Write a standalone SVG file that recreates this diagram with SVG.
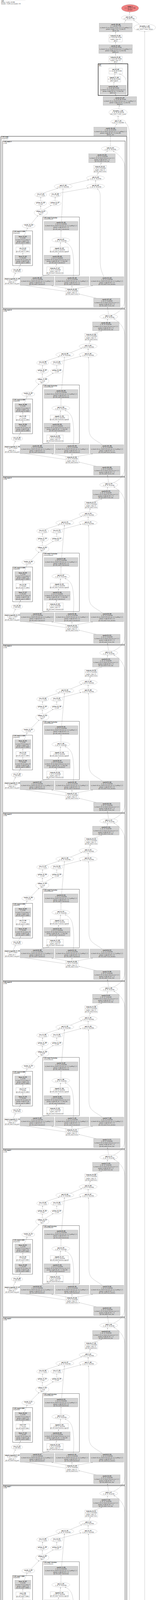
<svg xmlns="http://www.w3.org/2000/svg" width="400" height="7301" viewBox="0 0 400 7301">
<style>
text{font-family:"Liberation Serif","Times New Roman",serif;font-size:3.4px;text-anchor:middle;fill:#1a1a1a}
.b{font-weight:bold}
.l{text-anchor:start}
.s{font-size:2.95px}
.g{fill:#d3d3d3;stroke:#8c8c8c;stroke-width:.35}
.w{fill:#fff;stroke:#8c8c8c;stroke-width:.35}
.e path{fill:none;stroke:#6e6e6e;stroke-width:.35;marker-end:url(#ah)}
.c1{fill:none;stroke:#3c3c3c;stroke-width:1}
.c2{fill:none;stroke:#3c3c3c;stroke-width:.85}
.c3{fill:none;stroke:#333;stroke-width:.6}
.c4{fill:none;stroke:#111;stroke-width:1.2}
</style>
<defs>
<marker id="ah" viewBox="0 0 10 7" refX="10" refY="3.5" markerWidth="2.2" markerHeight="1.6" markerUnits="userSpaceOnUse" orient="auto"><path d="M0,0L10,3.5L0,7z" fill="#555"/></marker>
<g id="Tcf"><rect class="g" x="-34" y="-11.25" width="68" height="22.5"/><text y="-2.9">(1, 40, 16, 16) 40 KB</text><text class="s" y="1.2">in_channels=40, out_channels=40, kernel_size=(1, 1)</text><text y="5.3">params: weight (40, 40, 1, 1)</text></g>
<g id="Tc3"><rect class="g" x="-43.3" y="-11.25" width="86.6" height="22.5"/><text y="-2.9">(1, 40, 16, 16) 40 KB</text><text class="s" y="1.2">in_channels=40, out_channels=40, kernel_size=(3, 3), padding=(1, 1)</text><text y="5.3">params: weight (40, 40, 3, 3)</text></g>
<g id="Tk2"><rect class="g" x="-33.5" y="-11.25" width="67" height="22.5"/><text y="-2.9">(1, 40, 16, 16) 40 KB</text><text class="s" y="1.2">in_channels=40, out_channels=40, kernel_size=(1, 1)</text><text y="5.3">params: weight (40, 40, 1, 1), bias (40)</text></g>
<g id="Tl1"><rect class="g" x="-20.5" y="-11.25" width="41" height="22.5"/><text y="-2.9">(1, 10) 40 B</text><text class="s" y="1.2">in_features=40, out_features=10</text><text y="5.3">params: weight (10, 40)</text></g>
<g id="Tl2"><rect class="g" x="-20.5" y="-11.25" width="41" height="22.5"/><text y="-2.9">(1, 2) 8 B</text><text class="s" y="1.2">in_features=10, out_features=2</text><text y="5.3">params: weight (2, 10)</text></g>
<g id="Trl"><rect class="w" x="-17.5" y="-7.15" width="35" height="14.3"/><text y="1.2">(1, 10) 40 B</text></g>
<g id="Tlr"><rect class="w" x="-16.5" y="-9" width="33" height="18"/><text y="-.85">(1, 40, 16, 16) 40 KB</text><text y="3.25">negative_slope=0.2</text></g>
<g id="Tla"><rect class="w" x="-21" y="-9.5" width="42" height="19"/><text y="-.85">(1, 40, 16, 16) 40 KB</text><text y="3.25">negative_slope=0.2</text></g>
<g id="Tsg"><rect class="w" x="-23" y="-7.25" width="46" height="14.5"/><text y="1.2">(1, 40, 16, 16) 40 KB</text></g>
<g id="Tap"><rect class="w" x="-20.5" y="-9" width="41" height="18"/><text y="-.85">(1, 40, 1, 1) 160 B</text><text y="3.25">output_size=1</text></g>
<g id="Tm"><ellipse class="w" rx="23" ry="6.2"/><text y="3.25">(1, 40, 16, 16) 40 KB</text></g>
<g id="Tv0"><ellipse class="w" rx="14.5" ry="6.2"/><text y="3.25">(1, 40) 160 B</text></g>
<g id="Tv"><ellipse class="w" rx="15.3" ry="6.2"/><text y="3.25">(1, 1, 1, 1) 4 B</text></g>
<g id="Tgi"><ellipse class="w" rx="15.5" ry="6.2"/><text y="3.25">(1,) 4 B</text></g>
<g id="Tsm"><ellipse class="w" rx="17" ry="8.7"/><text y="1.2">(1, 2) 8 B</text><text y="5.3">dim=1</text></g>
<g id="Ttd"><ellipse class="w" rx="16.5" ry="6.2"/><text y="3.25">(1, 2) 8 B</text></g>
<g id="Tclu"><rect class="c2" x="6.7" y="361" width="314.3" height="428"/><text class="l" x="8.5" y="367.7">(AAB)</text><rect class="c3" x="32.3" y="591" width="51" height="89"/><text class="l" x="34" y="597.7">(Sequential)</text><rect class="c3" x="109.7" y="555.3" width="93.7" height="149.7"/><text class="l" x="111.5" y="562">(AttentionBranch)</text></g>
<g id="Tclu0"><rect class="c2" x="10.3" y="361" width="310.7" height="428"/><text class="l" x="12" y="367.7">(AAB)</text><rect class="c3" x="32.3" y="591" width="51" height="89"/><text class="l" x="34" y="597.7">(Sequential)</text><rect class="c3" x="109.7" y="555.3" width="93.7" height="149.7"/><text class="l" x="111.5" y="562">(AttentionBranch)</text></g>
<g id="eC" class="e"><path d="M34,711L39.5,698.9"/><path d="M47.5,686.5L53,676.2"/><path d="M58.5,653.2L58.5,647.4"/><path d="M58.5,632.8L58.5,625.4"/><path d="M104,708.2L126.5,702.2"/><path d="M143,683L145,676"/><path d="M148.5,653.2L150.5,647.4"/><path d="M154,632.2L155.3,621"/><path d="M188,708.2C190,690 190,652 183.5,636C179,627 173,622.5 166.5,620.4"/><path d="M156.2,608.3L156.4,589.6"/><path d="M168.2,746L52.4,728.9"/><path d="M170,738L132.5,731.3"/><path d="M184.5,738L184.5,731.3"/><path d="M199,738L237.5,731.3"/></g>
<g id="eCF" class="e"><path d="M247,763.3L202,752.5"/></g>
<g id="eA" class="e"><path d="M62,602.8L69.5,584.7"/><path d="M80,573.2L100,552.7"/><path d="M108.5,536.3L108.5,526"/><path d="M116,537L136.5,524.8"/><path d="M108.7,513.5L109.2,504.9"/><path d="M145.5,513.5L145.5,504.9"/><path d="M118.5,493.5L152,482.8"/><path d="M158.5,494.4L207.5,481.6"/><path d="M158,567L165.3,483.9"/><path d="M180.5,472.8L209.5,461"/><path d="M226,471.5L226,462.4"/><path d="M228.5,450L231.5,441.3"/><path d="M241,423.3L261.5,416.3"/><path d="M274.5,393.75L276,386.6"/><path d="M262,708.3C255,702 243,697 236,690C230,684 228,676 228,665L228,500C228,492 227,488 226.6,484"/></g>
<g id="eB" class="e"><path d="M62,602.8L70.5,584.1"/><path d="M80.5,572.6L97,552"/><path d="M104.4,535.8L104.2,526.7"/><path d="M112,536.7L131.5,525.6"/><path d="M104.2,514.3L104.4,504.7"/><path d="M141.2,514.3L141.4,504.7"/><path d="M113.5,493.3L148,482"/><path d="M154.5,494L226.5,481.3"/><path d="M157.7,567L161.5,483.2"/><path d="M176.5,472.4L227.5,460.5"/><path d="M245,470.8L245,461.9"/><path d="M248.5,449.5L252,441.8"/><path d="M257.5,423.8L259.5,416.3"/><path d="M268,393.75L276,386.2"/><path d="M266,708.3C263,700 257,690 257,670L257,500C257,492 253,486 249.5,483.2"/></g>
<g id="iA" class="e"><path d="M278.3,804.6L275.5,786.4"/><path d="M291,805.6C307,798 320,787 320,765L320,430C320,404 301,391 291.7,385.7"/></g>
<g id="iAB" class="e"><path d="M278.3,804.6L275.5,786.4"/><path d="M291,805.6C307,798 320,787 320,765L320,430C320,404 298,392 290,386.4"/></g>
<g id="iBA" class="e"><path d="M282.6,804.6L276,786.4"/><path d="M295.3,805.6C310,798 320,787 320,765L320,430C320,404 301,391 291.7,385.7"/></g>
</defs>
<rect width="400" height="7301" fill="#fff"/>
<path d="M2,0.6H65" stroke="#ccc" stroke-width=".4"/>
<text class="l b" x="3" y="4.2">A2N</text>
<text class="l" x="3" y="7.4">params: 1.04 M, 3.96 MB</text>
<text class="l" x="3" y="10.6">trainable: 1.04 M, non-trainable: 0 B</text>
<g id="connectors" class="e">
<path d="M332,39L332.6,30.7"/>
<path d="M318.5,59.3L322.5,51.4"/>
<path d="M357,61.5L342.5,51.3"/>
<path d="M296.4,89.3L296.6,81.9"/>
<path d="M296.3,114.3L296.3,107.5"/>
<path d="M296.3,144L296.3,136.9"/>
<path d="M296.6,174.85L296.4,162.2"/>
<path d="M293.5,196L294.8,189.3"/>
<path d="M291.5,218.3L292.3,210.2"/>
<path d="M298.5,247.3L295.5,240.9"/>
<path d="M322,247.3C326,232 328,214 323,203C319,195 312,191 306,189.4"/>
<path d="M304.5,278.8L306,269.9"/>
<path d="M302.8,306L302.8,296.9"/>
<path d="M294,325.45L299.3,317.3"/>
<path d="M283,374.3L283,348.15"/>
<path d="M331,7250C332,7240 332,7226 332,7210L332,350C332,330 328,318 320.5,314"/>
<path d="M362,7282C368,7274 371,7264 371,7248L371,80.2"/>
<path d="M337.5,7279.4L332,7272.7"/>
<path d="M293,7250L266,7241.3"/>
<path d="M326,7250C327.5,7240 328,7230 328,7215L328,6885C328,6859 301,6847 290,6841.4"/>
<path d="M212,7218.3L201.3,7211.3"/>
<use href="#eC"/><use href="#eB"/><use href="#eCF"/><use href="#iAB"/>
<use href="#eC" y="430.33"/><use href="#eA" y="430.33"/><use href="#eCF" y="430.33"/><use href="#iA" y="430.33"/>
<use href="#eC" y="860.67"/><use href="#eA" y="860.67"/><use href="#eCF" y="860.67"/><use href="#iA" y="860.67"/>
<use href="#eC" y="1291"/><use href="#eA" y="1291"/><use href="#eCF" y="1291"/><use href="#iA" y="1291"/>
<use href="#eC" y="1721.33"/><use href="#eA" y="1721.33"/><use href="#eCF" y="1721.33"/><use href="#iA" y="1721.33"/>
<use href="#eC" y="2151.67"/><use href="#eA" y="2151.67"/><use href="#eCF" y="2151.67"/><use href="#iA" y="2151.67"/>
<use href="#eC" y="2582"/><use href="#eA" y="2582"/><use href="#eCF" y="2582"/><use href="#iA" y="2582"/>
<use href="#eC" y="3012.33"/><use href="#eA" y="3012.33"/><use href="#eCF" y="3012.33"/><use href="#iA" y="3012.33"/>
<use href="#eC" y="3442.67"/><use href="#eA" y="3442.67"/><use href="#eCF" y="3442.67"/><use href="#iA" y="3442.67"/>
<use href="#eC" y="3873"/><use href="#eA" y="3873"/><use href="#eCF" y="3873"/><use href="#iA" y="3873"/>
<use href="#eC" y="4303.33"/><use href="#eA" y="4303.33"/><use href="#eCF" y="4303.33"/><use href="#iA" y="4303.33"/>
<use href="#eC" y="4733.67"/><use href="#eA" y="4733.67"/><use href="#eCF" y="4733.67"/><use href="#iA" y="4733.67"/>
<use href="#eC" y="5164"/><use href="#eA" y="5164"/><use href="#eCF" y="5164"/><use href="#iA" y="5164"/>
<use href="#eC" y="5594.33"/><use href="#eA" y="5594.33"/><use href="#eCF" y="5594.33"/><use href="#iA" y="5594.33"/>
<use href="#eC" y="6024.67"/><use href="#eA" y="6024.67"/><use href="#eCF" y="6024.67"/><use href="#iBA" y="6024.67"/>
<use href="#eC" y="6455"/><use href="#eB" y="6455"/>
</g>
<g id="output_1" transform="translate(333.5,21)"><ellipse class="w" rx="22" ry="9.5" style="fill:#f08080"/><text class="b" y="-2.9">output_1</text><text y="1.2">(1, 3, 48, 48) 27 KB</text><text y="5.3">@output</text></g>
<g id="add_18_446" transform="translate(331,45.5)"><ellipse class="w" rx="19.5" ry="6.5"/><text class="b" y="-.85">add_18_446</text><text y="3.25">(1, 3, 48, 48) 27 KB</text></g>
<g id="conv2d_118_444" transform="translate(296.7,70.5)"><rect class="g" x="-42.35" y="-11.2" width="84.7" height="22.4"/><text class="b" y="-7">conv2d_118_444</text><text y="-2.9">(1, 3, 48, 48) 27 KB</text><text class="s" y="1.2">in_channels=24, out_channels=3, kernel_size=(3, 3), padding=(1, 1)</text><text y="5.3">params: weight (3, 24, 3, 3), bias (3)</text><text y="9.4">@conv_last</text></g>
<g id="interpolate_2_445" transform="translate(371,70.5)"><ellipse class="w" rx="28" ry="9.5"/><text class="b" y="-2.9">interpolate_2_445</text><text y="1.2">(1, 3, 48, 48) 27 KB</text><text y="5.3">scale_factor=3, mode=bilinear</text></g>
<g id="leakyrelu_50_443" transform="translate(296.3,98.3)"><rect class="w" x="-17" y="-9" width="34" height="18"/><text class="b" y="-4.95">leakyrelu_50_443</text><text y="-.85">(1, 24, 48, 48) 216 KB</text><text y="3.25">negative_slope=0.2</text><text y="7.35">@lrelu</text></g>
<g id="conv2d_117_442" transform="translate(296.3,125.5)"><rect class="g" x="-43" y="-11.2" width="86" height="22.4"/><text class="b" y="-7">conv2d_117_442</text><text y="-2.9">(1, 24, 48, 48) 216 KB</text><text class="s" y="1.2">in_channels=24, out_channels=24, kernel_size=(3, 3), padding=(1, 1)</text><text y="5.3">params: weight (24, 24, 3, 3), bias (24)</text><text y="9.4">@HRconv1</text></g>
<g id="leakyrelu_49_441" transform="translate(296.3,153)"><rect class="w" x="-17" y="-9" width="34" height="18"/><text class="b" y="-4.95">leakyrelu_49_441</text><text y="-.85">(1, 24, 48, 48) 216 KB</text><text y="3.25">negative_slope=0.2</text><text y="7.35">@lrelu</text></g>
<g id="att1"><rect class="c4" x="251.7" y="163.3" width="76" height="81"/><text class="l b" x="253.5" y="166.6">att1</text><text class="l" x="253.5" y="170">(PA)</text></g>
<g id="mul_49_440" transform="translate(296.7,182)"><rect class="w" x="-17.3" y="-7.15" width="34.6" height="14.3"/><text class="b" y="-2.9">mul_49_440</text><text y="1.2">(1, 24, 48, 48) 216 KB</text><text y="5.3">@att1</text></g>
<g id="sigmoid_17_439" transform="translate(292.7,203)"><rect class="w" x="-16.7" y="-7" width="33.4" height="14"/><text class="b" y="-2.9">sigmoid_17_439</text><text y="1.2">(1, 24, 48, 48) 216 KB</text><text y="5.3">@att1.sigmoid</text></g>
<g id="conv2d_116_438" transform="translate(289.8,229.5)"><rect class="g" x="-33.5" y="-11.2" width="67" height="22.4"/><text class="b" y="-7">conv2d_116_438</text><text y="-2.9">(1, 24, 48, 48) 216 KB</text><text class="s" y="1.2">in_channels=24, out_channels=24, kernel_size=(1, 1)</text><text y="5.3">params: weight (24, 24, 1, 1), bias (24)</text><text y="9.4">@att1.conv</text></g>
<g id="conv2d_115_437" transform="translate(307.3,258.5)"><rect class="g" x="-43" y="-11.2" width="86" height="22.4"/><text class="b" y="-7">conv2d_115_437</text><text y="-2.9">(1, 24, 48, 48) 216 KB</text><text class="s" y="1.2">in_channels=40, out_channels=24, kernel_size=(3, 3), padding=(1, 1)</text><text y="5.3">params: weight (24, 40, 3, 3), bias (24)</text><text y="9.4">@upconv1</text></g>
<g id="interpolate_1_436" transform="translate(302.7,287.7)"><ellipse class="w" rx="23.3" ry="9"/><text class="b" y="-2.9">interpolate_1_436</text><text y="1.2">(1, 40, 48, 48) 360 KB</text><text y="5.3">scale_factor=3, mode=nearest</text></g>
<g id="add_17_435" transform="translate(302.8,311.7)"><ellipse class="w" rx="18.8" ry="5.7"/><text class="b" y="-.85">add_17_435</text><text y="3.25">(1, 40, 16, 16) 40 KB</text></g>
<g id="conv2d_114_434" transform="translate(283.2,336.7)"><rect class="g" x="-42.5" y="-11.25" width="85" height="22.5"/><text class="b" y="-7">conv2d_114_434</text><text y="-2.9">(1, 40, 16, 16) 40 KB</text><text class="s" y="1.2">in_channels=40, out_channels=40, kernel_size=(3, 3), padding=(1, 1)</text><text y="5.3">params: weight (40, 40, 3, 3), bias (40)</text><text y="9.4">@trunk_conv</text></g>
<g id="AAB_trunk"><rect class="c1" x="2.3" y="349" width="322.7" height="6899"/><text class="l b" x="4.3" y="352.4">AAB_trunk</text><text class="l" x="4.3" y="355.8">(Sequential)</text></g>
<g id="blk15" transform="translate(0,0)"><use href="#Tclu"/><text class="l b" x="8.5" y="364.3">AAB_trunk.15</text><text class="l b" x="34" y="594.3">AAB_trunk.15.ADM</text><text class="l b" x="111.5" y="558.6">AAB_trunk.15.attention</text>
<g id="conv2d_107_407" transform="translate(274,774.5)"><use href="#Tcf"/><text class="b" y="-7">conv2d_107_407</text><text y="9.4">@AAB_trunk.15.conv_first</text></g>
<g id="leakyrelu_46_408" transform="translate(184.5,747)"><use href="#Tlr"/><text class="b" y="-4.95">leakyrelu_46_408</text><text y="7.35">@AAB_trunk.15.lrelu</text></g>
<g id="adaptiveavgpool2d_16_409" transform="translate(31.5,720)"><use href="#Tap"/><text class="b" y="-4.95">adaptiveavgpool2d_16_409</text><text y="7.35">@AAB_trunk.15.avg_pool</text></g>
<g id="view_46_410" transform="translate(43.5,692.5)"><use href="#Tv0"/><text class="b" y="-.85">view_46_410</text></g>
<g id="linear_31_411" transform="translate(58.5,664.5)"><use href="#Tl1"/><text class="b" y="-7">linear_31_411</text><text y="9.4">@AAB_trunk.15.ADM.0</text></g>
<g id="relu_16_412" transform="translate(58.5,640)"><use href="#Trl"/><text class="b" y="-2.9">relu_16_412</text><text y="5.3">@AAB_trunk.15.ADM.1</text></g>
<g id="linear_32_413" transform="translate(58.5,614)"><use href="#Tl2"/><text class="b" y="-7">linear_32_413</text><text y="9.4">@AAB_trunk.15.ADM.2</text></g>
<g id="truediv_16_414" transform="translate(73.5,578)"><use href="#Ttd"/><text class="b" y="-.85">truediv_16_414</text></g>
<g id="softmax_16_415" transform="translate(104.5,544.5)"><use href="#Tsm"/><text class="b" y="-2.9">softmax_16_415</text></g>
<g id="conv2d_108_416" transform="translate(95.3,719.5)"><use href="#Tc3"/><text class="b" y="-7">conv2d_108_416</text><text y="9.4">@AAB_trunk.15.attention.k1</text></g>
<g id="leakyrelu_47_417" transform="translate(141,692.5)"><use href="#Tla"/><text class="b" y="-4.95">leakyrelu_47_417</text><text y="7.35">@AAB_trunk.15.attention.lrelu</text></g>
<g id="conv2d_109_418" transform="translate(146.5,664.5)"><use href="#Tk2"/><text class="b" y="-7">conv2d_109_418</text><text y="9.4">@AAB_trunk.15.attention.k2</text></g>
<g id="sigmoid_16_419" transform="translate(152,639.5)"><use href="#Tsg"/><text class="b" y="-2.9">sigmoid_16_419</text><text y="5.3">@AAB_trunk.15.attention.sigmoid</text></g>
<g id="conv2d_110_420" transform="translate(184.7,719.5)"><use href="#Tc3"/><text class="b" y="-7">conv2d_110_420</text><text y="9.4">@AAB_trunk.15.attention.k3</text></g>
<g id="mul_46_421" transform="translate(156,614.5)"><use href="#Tm"/><text class="b" y="-.85">mul_46_421</text></g>
<g id="conv2d_111_422" transform="translate(156.5,578.2)"><use href="#Tc3"/><text class="b" y="-7">conv2d_111_422</text><text y="9.4">@AAB_trunk.15.attention.k4</text></g>
<g id="conv2d_112_423" transform="translate(274.3,719.5)"><use href="#Tc3"/><text class="b" y="-7">conv2d_112_423</text><text y="9.4">@AAB_trunk.15.non_attention</text></g>
<g id="getitem_31_424" transform="translate(104,520.5)"><use href="#Tgi"/><text class="b" y="-.85">getitem_31_424</text></g>
<g id="view_47_425" transform="translate(104.5,498.5)"><use href="#Tv"/><text class="b" y="-.85">view_47_425</text></g>
<g id="mul_47_426" transform="translate(162,477)"><use href="#Tm"/><text class="b" y="-.85">mul_47_426</text></g>
<g id="getitem_32_427" transform="translate(141,520.5)"><use href="#Tgi"/><text class="b" y="-.85">getitem_32_427</text></g>
<g id="view_48_428" transform="translate(141.5,498.5)"><use href="#Tv"/><text class="b" y="-.85">view_48_428</text></g>
<g id="mul_48_429" transform="translate(245,477)"><use href="#Tm"/><text class="b" y="-.85">mul_48_429</text></g>
<g id="add_16_430" transform="translate(245,455.7)"><use href="#Tm"/><text class="b" y="-.85">add_16_430</text></g>
<g id="leakyrelu_48_431" transform="translate(256.5,432.8)"><use href="#Tlr"/><text class="b" y="-4.95">leakyrelu_48_431</text><text y="7.35">@AAB_trunk.15.lrelu</text></g>
<g id="conv2d_113_432" transform="translate(261.5,405)"><use href="#Tcf"/><text class="b" y="-7">conv2d_113_432</text><text y="9.4">@AAB_trunk.15.conv_last</text></g>
<g id="iadd_16_433" transform="translate(283,380.5)"><use href="#Tm"/><text class="b" y="-.85">iadd_16_433</text></g>
</g>
<g id="blk14" transform="translate(0,430.33)"><use href="#Tclu"/><text class="l b" x="8.5" y="364.3">AAB_trunk.14</text><text class="l b" x="34" y="594.3">AAB_trunk.14.ADM</text><text class="l b" x="111.5" y="558.6">AAB_trunk.14.attention</text>
<g id="conv2d_100_380" transform="translate(274,774.5)"><use href="#Tcf"/><text class="b" y="-7">conv2d_100_380</text><text y="9.4">@AAB_trunk.14.conv_first</text></g>
<g id="leakyrelu_43_381" transform="translate(184.5,747)"><use href="#Tlr"/><text class="b" y="-4.95">leakyrelu_43_381</text><text y="7.35">@AAB_trunk.14.lrelu</text></g>
<g id="adaptiveavgpool2d_15_382" transform="translate(31.5,720)"><use href="#Tap"/><text class="b" y="-4.95">adaptiveavgpool2d_15_382</text><text y="7.35">@AAB_trunk.14.avg_pool</text></g>
<g id="view_43_383" transform="translate(43.5,692.5)"><use href="#Tv0"/><text class="b" y="-.85">view_43_383</text></g>
<g id="linear_29_384" transform="translate(58.5,664.5)"><use href="#Tl1"/><text class="b" y="-7">linear_29_384</text><text y="9.4">@AAB_trunk.14.ADM.0</text></g>
<g id="relu_15_385" transform="translate(58.5,640)"><use href="#Trl"/><text class="b" y="-2.9">relu_15_385</text><text y="5.3">@AAB_trunk.14.ADM.1</text></g>
<g id="linear_30_386" transform="translate(58.5,614)"><use href="#Tl2"/><text class="b" y="-7">linear_30_386</text><text y="9.4">@AAB_trunk.14.ADM.2</text></g>
<g id="truediv_15_387" transform="translate(72.5,578.7)"><use href="#Ttd"/><text class="b" y="-.85">truediv_15_387</text></g>
<g id="softmax_15_388" transform="translate(108.5,545)"><use href="#Tsm"/><text class="b" y="-2.9">softmax_15_388</text></g>
<g id="conv2d_101_389" transform="translate(95.3,719.5)"><use href="#Tc3"/><text class="b" y="-7">conv2d_101_389</text><text y="9.4">@AAB_trunk.14.attention.k1</text></g>
<g id="leakyrelu_44_390" transform="translate(141,692.5)"><use href="#Tla"/><text class="b" y="-4.95">leakyrelu_44_390</text><text y="7.35">@AAB_trunk.14.attention.lrelu</text></g>
<g id="conv2d_102_391" transform="translate(146.5,664.5)"><use href="#Tk2"/><text class="b" y="-7">conv2d_102_391</text><text y="9.4">@AAB_trunk.14.attention.k2</text></g>
<g id="sigmoid_15_392" transform="translate(152,639.5)"><use href="#Tsg"/><text class="b" y="-2.9">sigmoid_15_392</text><text y="5.3">@AAB_trunk.14.attention.sigmoid</text></g>
<g id="conv2d_103_393" transform="translate(184.7,719.5)"><use href="#Tc3"/><text class="b" y="-7">conv2d_103_393</text><text y="9.4">@AAB_trunk.14.attention.k3</text></g>
<g id="mul_43_394" transform="translate(156,614.5)"><use href="#Tm"/><text class="b" y="-.85">mul_43_394</text></g>
<g id="conv2d_104_395" transform="translate(156.5,578.2)"><use href="#Tc3"/><text class="b" y="-7">conv2d_104_395</text><text y="9.4">@AAB_trunk.14.attention.k4</text></g>
<g id="conv2d_105_396" transform="translate(274.3,719.5)"><use href="#Tc3"/><text class="b" y="-7">conv2d_105_396</text><text y="9.4">@AAB_trunk.14.non_attention</text></g>
<g id="getitem_29_397" transform="translate(108.5,519.7)"><use href="#Tgi"/><text class="b" y="-.85">getitem_29_397</text></g>
<g id="view_44_398" transform="translate(109.5,498.7)"><use href="#Tv"/><text class="b" y="-.85">view_44_398</text></g>
<g id="mul_44_399" transform="translate(166.3,477.7)"><use href="#Tm"/><text class="b" y="-.85">mul_44_399</text></g>
<g id="getitem_30_400" transform="translate(145.5,519.7)"><use href="#Tgi"/><text class="b" y="-.85">getitem_30_400</text></g>
<g id="view_45_401" transform="translate(145.5,498.7)"><use href="#Tv"/><text class="b" y="-.85">view_45_401</text></g>
<g id="mul_45_402" transform="translate(226,477.7)"><use href="#Tm"/><text class="b" y="-.85">mul_45_402</text></g>
<g id="add_15_403" transform="translate(226,456.2)"><use href="#Tm"/><text class="b" y="-.85">add_15_403</text></g>
<g id="leakyrelu_45_404" transform="translate(233.7,432.3)"><use href="#Tlr"/><text class="b" y="-4.95">leakyrelu_45_404</text><text y="7.35">@AAB_trunk.14.lrelu</text></g>
<g id="conv2d_106_405" transform="translate(271.3,405)"><use href="#Tcf"/><text class="b" y="-7">conv2d_106_405</text><text y="9.4">@AAB_trunk.14.conv_last</text></g>
<g id="iadd_15_406" transform="translate(278.7,380.5)"><use href="#Tm"/><text class="b" y="-.85">iadd_15_406</text></g>
</g>
<g id="blk13" transform="translate(0,860.67)"><use href="#Tclu"/><text class="l b" x="8.5" y="364.3">AAB_trunk.13</text><text class="l b" x="34" y="594.3">AAB_trunk.13.ADM</text><text class="l b" x="111.5" y="558.6">AAB_trunk.13.attention</text>
<g id="conv2d_93_353" transform="translate(274,774.5)"><use href="#Tcf"/><text class="b" y="-7">conv2d_93_353</text><text y="9.4">@AAB_trunk.13.conv_first</text></g>
<g id="leakyrelu_40_354" transform="translate(184.5,747)"><use href="#Tlr"/><text class="b" y="-4.95">leakyrelu_40_354</text><text y="7.35">@AAB_trunk.13.lrelu</text></g>
<g id="adaptiveavgpool2d_14_355" transform="translate(31.5,720)"><use href="#Tap"/><text class="b" y="-4.95">adaptiveavgpool2d_14_355</text><text y="7.35">@AAB_trunk.13.avg_pool</text></g>
<g id="view_40_356" transform="translate(43.5,692.5)"><use href="#Tv0"/><text class="b" y="-.85">view_40_356</text></g>
<g id="linear_27_357" transform="translate(58.5,664.5)"><use href="#Tl1"/><text class="b" y="-7">linear_27_357</text><text y="9.4">@AAB_trunk.13.ADM.0</text></g>
<g id="relu_14_358" transform="translate(58.5,640)"><use href="#Trl"/><text class="b" y="-2.9">relu_14_358</text><text y="5.3">@AAB_trunk.13.ADM.1</text></g>
<g id="linear_28_359" transform="translate(58.5,614)"><use href="#Tl2"/><text class="b" y="-7">linear_28_359</text><text y="9.4">@AAB_trunk.13.ADM.2</text></g>
<g id="truediv_14_360" transform="translate(72.5,578.7)"><use href="#Ttd"/><text class="b" y="-.85">truediv_14_360</text></g>
<g id="softmax_14_361" transform="translate(108.5,545)"><use href="#Tsm"/><text class="b" y="-2.9">softmax_14_361</text></g>
<g id="conv2d_94_362" transform="translate(95.3,719.5)"><use href="#Tc3"/><text class="b" y="-7">conv2d_94_362</text><text y="9.4">@AAB_trunk.13.attention.k1</text></g>
<g id="leakyrelu_41_363" transform="translate(141,692.5)"><use href="#Tla"/><text class="b" y="-4.95">leakyrelu_41_363</text><text y="7.35">@AAB_trunk.13.attention.lrelu</text></g>
<g id="conv2d_95_364" transform="translate(146.5,664.5)"><use href="#Tk2"/><text class="b" y="-7">conv2d_95_364</text><text y="9.4">@AAB_trunk.13.attention.k2</text></g>
<g id="sigmoid_14_365" transform="translate(152,639.5)"><use href="#Tsg"/><text class="b" y="-2.9">sigmoid_14_365</text><text y="5.3">@AAB_trunk.13.attention.sigmoid</text></g>
<g id="conv2d_96_366" transform="translate(184.7,719.5)"><use href="#Tc3"/><text class="b" y="-7">conv2d_96_366</text><text y="9.4">@AAB_trunk.13.attention.k3</text></g>
<g id="mul_40_367" transform="translate(156,614.5)"><use href="#Tm"/><text class="b" y="-.85">mul_40_367</text></g>
<g id="conv2d_97_368" transform="translate(156.5,578.2)"><use href="#Tc3"/><text class="b" y="-7">conv2d_97_368</text><text y="9.4">@AAB_trunk.13.attention.k4</text></g>
<g id="conv2d_98_369" transform="translate(274.3,719.5)"><use href="#Tc3"/><text class="b" y="-7">conv2d_98_369</text><text y="9.4">@AAB_trunk.13.non_attention</text></g>
<g id="getitem_27_370" transform="translate(108.5,519.7)"><use href="#Tgi"/><text class="b" y="-.85">getitem_27_370</text></g>
<g id="view_41_371" transform="translate(109.5,498.7)"><use href="#Tv"/><text class="b" y="-.85">view_41_371</text></g>
<g id="mul_41_372" transform="translate(166.3,477.7)"><use href="#Tm"/><text class="b" y="-.85">mul_41_372</text></g>
<g id="getitem_28_373" transform="translate(145.5,519.7)"><use href="#Tgi"/><text class="b" y="-.85">getitem_28_373</text></g>
<g id="view_42_374" transform="translate(145.5,498.7)"><use href="#Tv"/><text class="b" y="-.85">view_42_374</text></g>
<g id="mul_42_375" transform="translate(226,477.7)"><use href="#Tm"/><text class="b" y="-.85">mul_42_375</text></g>
<g id="add_14_376" transform="translate(226,456.2)"><use href="#Tm"/><text class="b" y="-.85">add_14_376</text></g>
<g id="leakyrelu_42_377" transform="translate(233.7,432.3)"><use href="#Tlr"/><text class="b" y="-4.95">leakyrelu_42_377</text><text y="7.35">@AAB_trunk.13.lrelu</text></g>
<g id="conv2d_99_378" transform="translate(271.3,405)"><use href="#Tcf"/><text class="b" y="-7">conv2d_99_378</text><text y="9.4">@AAB_trunk.13.conv_last</text></g>
<g id="iadd_14_379" transform="translate(278.7,380.5)"><use href="#Tm"/><text class="b" y="-.85">iadd_14_379</text></g>
</g>
<g id="blk12" transform="translate(0,1291)"><use href="#Tclu"/><text class="l b" x="8.5" y="364.3">AAB_trunk.12</text><text class="l b" x="34" y="594.3">AAB_trunk.12.ADM</text><text class="l b" x="111.5" y="558.6">AAB_trunk.12.attention</text>
<g id="conv2d_86_326" transform="translate(274,774.5)"><use href="#Tcf"/><text class="b" y="-7">conv2d_86_326</text><text y="9.4">@AAB_trunk.12.conv_first</text></g>
<g id="leakyrelu_37_327" transform="translate(184.5,747)"><use href="#Tlr"/><text class="b" y="-4.95">leakyrelu_37_327</text><text y="7.35">@AAB_trunk.12.lrelu</text></g>
<g id="adaptiveavgpool2d_13_328" transform="translate(31.5,720)"><use href="#Tap"/><text class="b" y="-4.95">adaptiveavgpool2d_13_328</text><text y="7.35">@AAB_trunk.12.avg_pool</text></g>
<g id="view_37_329" transform="translate(43.5,692.5)"><use href="#Tv0"/><text class="b" y="-.85">view_37_329</text></g>
<g id="linear_25_330" transform="translate(58.5,664.5)"><use href="#Tl1"/><text class="b" y="-7">linear_25_330</text><text y="9.4">@AAB_trunk.12.ADM.0</text></g>
<g id="relu_13_331" transform="translate(58.5,640)"><use href="#Trl"/><text class="b" y="-2.9">relu_13_331</text><text y="5.3">@AAB_trunk.12.ADM.1</text></g>
<g id="linear_26_332" transform="translate(58.5,614)"><use href="#Tl2"/><text class="b" y="-7">linear_26_332</text><text y="9.4">@AAB_trunk.12.ADM.2</text></g>
<g id="truediv_13_333" transform="translate(72.5,578.7)"><use href="#Ttd"/><text class="b" y="-.85">truediv_13_333</text></g>
<g id="softmax_13_334" transform="translate(108.5,545)"><use href="#Tsm"/><text class="b" y="-2.9">softmax_13_334</text></g>
<g id="conv2d_87_335" transform="translate(95.3,719.5)"><use href="#Tc3"/><text class="b" y="-7">conv2d_87_335</text><text y="9.4">@AAB_trunk.12.attention.k1</text></g>
<g id="leakyrelu_38_336" transform="translate(141,692.5)"><use href="#Tla"/><text class="b" y="-4.95">leakyrelu_38_336</text><text y="7.35">@AAB_trunk.12.attention.lrelu</text></g>
<g id="conv2d_88_337" transform="translate(146.5,664.5)"><use href="#Tk2"/><text class="b" y="-7">conv2d_88_337</text><text y="9.4">@AAB_trunk.12.attention.k2</text></g>
<g id="sigmoid_13_338" transform="translate(152,639.5)"><use href="#Tsg"/><text class="b" y="-2.9">sigmoid_13_338</text><text y="5.3">@AAB_trunk.12.attention.sigmoid</text></g>
<g id="conv2d_89_339" transform="translate(184.7,719.5)"><use href="#Tc3"/><text class="b" y="-7">conv2d_89_339</text><text y="9.4">@AAB_trunk.12.attention.k3</text></g>
<g id="mul_37_340" transform="translate(156,614.5)"><use href="#Tm"/><text class="b" y="-.85">mul_37_340</text></g>
<g id="conv2d_90_341" transform="translate(156.5,578.2)"><use href="#Tc3"/><text class="b" y="-7">conv2d_90_341</text><text y="9.4">@AAB_trunk.12.attention.k4</text></g>
<g id="conv2d_91_342" transform="translate(274.3,719.5)"><use href="#Tc3"/><text class="b" y="-7">conv2d_91_342</text><text y="9.4">@AAB_trunk.12.non_attention</text></g>
<g id="getitem_25_343" transform="translate(108.5,519.7)"><use href="#Tgi"/><text class="b" y="-.85">getitem_25_343</text></g>
<g id="view_38_344" transform="translate(109.5,498.7)"><use href="#Tv"/><text class="b" y="-.85">view_38_344</text></g>
<g id="mul_38_345" transform="translate(166.3,477.7)"><use href="#Tm"/><text class="b" y="-.85">mul_38_345</text></g>
<g id="getitem_26_346" transform="translate(145.5,519.7)"><use href="#Tgi"/><text class="b" y="-.85">getitem_26_346</text></g>
<g id="view_39_347" transform="translate(145.5,498.7)"><use href="#Tv"/><text class="b" y="-.85">view_39_347</text></g>
<g id="mul_39_348" transform="translate(226,477.7)"><use href="#Tm"/><text class="b" y="-.85">mul_39_348</text></g>
<g id="add_13_349" transform="translate(226,456.2)"><use href="#Tm"/><text class="b" y="-.85">add_13_349</text></g>
<g id="leakyrelu_39_350" transform="translate(233.7,432.3)"><use href="#Tlr"/><text class="b" y="-4.95">leakyrelu_39_350</text><text y="7.35">@AAB_trunk.12.lrelu</text></g>
<g id="conv2d_92_351" transform="translate(271.3,405)"><use href="#Tcf"/><text class="b" y="-7">conv2d_92_351</text><text y="9.4">@AAB_trunk.12.conv_last</text></g>
<g id="iadd_13_352" transform="translate(278.7,380.5)"><use href="#Tm"/><text class="b" y="-.85">iadd_13_352</text></g>
</g>
<g id="blk11" transform="translate(0,1721.33)"><use href="#Tclu"/><text class="l b" x="8.5" y="364.3">AAB_trunk.11</text><text class="l b" x="34" y="594.3">AAB_trunk.11.ADM</text><text class="l b" x="111.5" y="558.6">AAB_trunk.11.attention</text>
<g id="conv2d_79_299" transform="translate(274,774.5)"><use href="#Tcf"/><text class="b" y="-7">conv2d_79_299</text><text y="9.4">@AAB_trunk.11.conv_first</text></g>
<g id="leakyrelu_34_300" transform="translate(184.5,747)"><use href="#Tlr"/><text class="b" y="-4.95">leakyrelu_34_300</text><text y="7.35">@AAB_trunk.11.lrelu</text></g>
<g id="adaptiveavgpool2d_12_301" transform="translate(31.5,720)"><use href="#Tap"/><text class="b" y="-4.95">adaptiveavgpool2d_12_301</text><text y="7.35">@AAB_trunk.11.avg_pool</text></g>
<g id="view_34_302" transform="translate(43.5,692.5)"><use href="#Tv0"/><text class="b" y="-.85">view_34_302</text></g>
<g id="linear_23_303" transform="translate(58.5,664.5)"><use href="#Tl1"/><text class="b" y="-7">linear_23_303</text><text y="9.4">@AAB_trunk.11.ADM.0</text></g>
<g id="relu_12_304" transform="translate(58.5,640)"><use href="#Trl"/><text class="b" y="-2.9">relu_12_304</text><text y="5.3">@AAB_trunk.11.ADM.1</text></g>
<g id="linear_24_305" transform="translate(58.5,614)"><use href="#Tl2"/><text class="b" y="-7">linear_24_305</text><text y="9.4">@AAB_trunk.11.ADM.2</text></g>
<g id="truediv_12_306" transform="translate(72.5,578.7)"><use href="#Ttd"/><text class="b" y="-.85">truediv_12_306</text></g>
<g id="softmax_12_307" transform="translate(108.5,545)"><use href="#Tsm"/><text class="b" y="-2.9">softmax_12_307</text></g>
<g id="conv2d_80_308" transform="translate(95.3,719.5)"><use href="#Tc3"/><text class="b" y="-7">conv2d_80_308</text><text y="9.4">@AAB_trunk.11.attention.k1</text></g>
<g id="leakyrelu_35_309" transform="translate(141,692.5)"><use href="#Tla"/><text class="b" y="-4.95">leakyrelu_35_309</text><text y="7.35">@AAB_trunk.11.attention.lrelu</text></g>
<g id="conv2d_81_310" transform="translate(146.5,664.5)"><use href="#Tk2"/><text class="b" y="-7">conv2d_81_310</text><text y="9.4">@AAB_trunk.11.attention.k2</text></g>
<g id="sigmoid_12_311" transform="translate(152,639.5)"><use href="#Tsg"/><text class="b" y="-2.9">sigmoid_12_311</text><text y="5.3">@AAB_trunk.11.attention.sigmoid</text></g>
<g id="conv2d_82_312" transform="translate(184.7,719.5)"><use href="#Tc3"/><text class="b" y="-7">conv2d_82_312</text><text y="9.4">@AAB_trunk.11.attention.k3</text></g>
<g id="mul_34_313" transform="translate(156,614.5)"><use href="#Tm"/><text class="b" y="-.85">mul_34_313</text></g>
<g id="conv2d_83_314" transform="translate(156.5,578.2)"><use href="#Tc3"/><text class="b" y="-7">conv2d_83_314</text><text y="9.4">@AAB_trunk.11.attention.k4</text></g>
<g id="conv2d_84_315" transform="translate(274.3,719.5)"><use href="#Tc3"/><text class="b" y="-7">conv2d_84_315</text><text y="9.4">@AAB_trunk.11.non_attention</text></g>
<g id="getitem_23_316" transform="translate(108.5,519.7)"><use href="#Tgi"/><text class="b" y="-.85">getitem_23_316</text></g>
<g id="view_35_317" transform="translate(109.5,498.7)"><use href="#Tv"/><text class="b" y="-.85">view_35_317</text></g>
<g id="mul_35_318" transform="translate(166.3,477.7)"><use href="#Tm"/><text class="b" y="-.85">mul_35_318</text></g>
<g id="getitem_24_319" transform="translate(145.5,519.7)"><use href="#Tgi"/><text class="b" y="-.85">getitem_24_319</text></g>
<g id="view_36_320" transform="translate(145.5,498.7)"><use href="#Tv"/><text class="b" y="-.85">view_36_320</text></g>
<g id="mul_36_321" transform="translate(226,477.7)"><use href="#Tm"/><text class="b" y="-.85">mul_36_321</text></g>
<g id="add_12_322" transform="translate(226,456.2)"><use href="#Tm"/><text class="b" y="-.85">add_12_322</text></g>
<g id="leakyrelu_36_323" transform="translate(233.7,432.3)"><use href="#Tlr"/><text class="b" y="-4.95">leakyrelu_36_323</text><text y="7.35">@AAB_trunk.11.lrelu</text></g>
<g id="conv2d_85_324" transform="translate(271.3,405)"><use href="#Tcf"/><text class="b" y="-7">conv2d_85_324</text><text y="9.4">@AAB_trunk.11.conv_last</text></g>
<g id="iadd_12_325" transform="translate(278.7,380.5)"><use href="#Tm"/><text class="b" y="-.85">iadd_12_325</text></g>
</g>
<g id="blk10" transform="translate(0,2151.67)"><use href="#Tclu"/><text class="l b" x="8.5" y="364.3">AAB_trunk.10</text><text class="l b" x="34" y="594.3">AAB_trunk.10.ADM</text><text class="l b" x="111.5" y="558.6">AAB_trunk.10.attention</text>
<g id="conv2d_72_272" transform="translate(274,774.5)"><use href="#Tcf"/><text class="b" y="-7">conv2d_72_272</text><text y="9.4">@AAB_trunk.10.conv_first</text></g>
<g id="leakyrelu_31_273" transform="translate(184.5,747)"><use href="#Tlr"/><text class="b" y="-4.95">leakyrelu_31_273</text><text y="7.35">@AAB_trunk.10.lrelu</text></g>
<g id="adaptiveavgpool2d_11_274" transform="translate(31.5,720)"><use href="#Tap"/><text class="b" y="-4.95">adaptiveavgpool2d_11_274</text><text y="7.35">@AAB_trunk.10.avg_pool</text></g>
<g id="view_31_275" transform="translate(43.5,692.5)"><use href="#Tv0"/><text class="b" y="-.85">view_31_275</text></g>
<g id="linear_21_276" transform="translate(58.5,664.5)"><use href="#Tl1"/><text class="b" y="-7">linear_21_276</text><text y="9.4">@AAB_trunk.10.ADM.0</text></g>
<g id="relu_11_277" transform="translate(58.5,640)"><use href="#Trl"/><text class="b" y="-2.9">relu_11_277</text><text y="5.3">@AAB_trunk.10.ADM.1</text></g>
<g id="linear_22_278" transform="translate(58.5,614)"><use href="#Tl2"/><text class="b" y="-7">linear_22_278</text><text y="9.4">@AAB_trunk.10.ADM.2</text></g>
<g id="truediv_11_279" transform="translate(72.5,578.7)"><use href="#Ttd"/><text class="b" y="-.85">truediv_11_279</text></g>
<g id="softmax_11_280" transform="translate(108.5,545)"><use href="#Tsm"/><text class="b" y="-2.9">softmax_11_280</text></g>
<g id="conv2d_73_281" transform="translate(95.3,719.5)"><use href="#Tc3"/><text class="b" y="-7">conv2d_73_281</text><text y="9.4">@AAB_trunk.10.attention.k1</text></g>
<g id="leakyrelu_32_282" transform="translate(141,692.5)"><use href="#Tla"/><text class="b" y="-4.95">leakyrelu_32_282</text><text y="7.35">@AAB_trunk.10.attention.lrelu</text></g>
<g id="conv2d_74_283" transform="translate(146.5,664.5)"><use href="#Tk2"/><text class="b" y="-7">conv2d_74_283</text><text y="9.4">@AAB_trunk.10.attention.k2</text></g>
<g id="sigmoid_11_284" transform="translate(152,639.5)"><use href="#Tsg"/><text class="b" y="-2.9">sigmoid_11_284</text><text y="5.3">@AAB_trunk.10.attention.sigmoid</text></g>
<g id="conv2d_75_285" transform="translate(184.7,719.5)"><use href="#Tc3"/><text class="b" y="-7">conv2d_75_285</text><text y="9.4">@AAB_trunk.10.attention.k3</text></g>
<g id="mul_31_286" transform="translate(156,614.5)"><use href="#Tm"/><text class="b" y="-.85">mul_31_286</text></g>
<g id="conv2d_76_287" transform="translate(156.5,578.2)"><use href="#Tc3"/><text class="b" y="-7">conv2d_76_287</text><text y="9.4">@AAB_trunk.10.attention.k4</text></g>
<g id="conv2d_77_288" transform="translate(274.3,719.5)"><use href="#Tc3"/><text class="b" y="-7">conv2d_77_288</text><text y="9.4">@AAB_trunk.10.non_attention</text></g>
<g id="getitem_21_289" transform="translate(108.5,519.7)"><use href="#Tgi"/><text class="b" y="-.85">getitem_21_289</text></g>
<g id="view_32_290" transform="translate(109.5,498.7)"><use href="#Tv"/><text class="b" y="-.85">view_32_290</text></g>
<g id="mul_32_291" transform="translate(166.3,477.7)"><use href="#Tm"/><text class="b" y="-.85">mul_32_291</text></g>
<g id="getitem_22_292" transform="translate(145.5,519.7)"><use href="#Tgi"/><text class="b" y="-.85">getitem_22_292</text></g>
<g id="view_33_293" transform="translate(145.5,498.7)"><use href="#Tv"/><text class="b" y="-.85">view_33_293</text></g>
<g id="mul_33_294" transform="translate(226,477.7)"><use href="#Tm"/><text class="b" y="-.85">mul_33_294</text></g>
<g id="add_11_295" transform="translate(226,456.2)"><use href="#Tm"/><text class="b" y="-.85">add_11_295</text></g>
<g id="leakyrelu_33_296" transform="translate(233.7,432.3)"><use href="#Tlr"/><text class="b" y="-4.95">leakyrelu_33_296</text><text y="7.35">@AAB_trunk.10.lrelu</text></g>
<g id="conv2d_78_297" transform="translate(271.3,405)"><use href="#Tcf"/><text class="b" y="-7">conv2d_78_297</text><text y="9.4">@AAB_trunk.10.conv_last</text></g>
<g id="iadd_11_298" transform="translate(278.7,380.5)"><use href="#Tm"/><text class="b" y="-.85">iadd_11_298</text></g>
</g>
<g id="blk9" transform="translate(0,2582)"><use href="#Tclu"/><text class="l b" x="8.5" y="364.3">AAB_trunk.9</text><text class="l b" x="34" y="594.3">AAB_trunk.9.ADM</text><text class="l b" x="111.5" y="558.6">AAB_trunk.9.attention</text>
<g id="conv2d_65_245" transform="translate(274,774.5)"><use href="#Tcf"/><text class="b" y="-7">conv2d_65_245</text><text y="9.4">@AAB_trunk.9.conv_first</text></g>
<g id="leakyrelu_28_246" transform="translate(184.5,747)"><use href="#Tlr"/><text class="b" y="-4.95">leakyrelu_28_246</text><text y="7.35">@AAB_trunk.9.lrelu</text></g>
<g id="adaptiveavgpool2d_10_247" transform="translate(31.5,720)"><use href="#Tap"/><text class="b" y="-4.95">adaptiveavgpool2d_10_247</text><text y="7.35">@AAB_trunk.9.avg_pool</text></g>
<g id="view_28_248" transform="translate(43.5,692.5)"><use href="#Tv0"/><text class="b" y="-.85">view_28_248</text></g>
<g id="linear_19_249" transform="translate(58.5,664.5)"><use href="#Tl1"/><text class="b" y="-7">linear_19_249</text><text y="9.4">@AAB_trunk.9.ADM.0</text></g>
<g id="relu_10_250" transform="translate(58.5,640)"><use href="#Trl"/><text class="b" y="-2.9">relu_10_250</text><text y="5.3">@AAB_trunk.9.ADM.1</text></g>
<g id="linear_20_251" transform="translate(58.5,614)"><use href="#Tl2"/><text class="b" y="-7">linear_20_251</text><text y="9.4">@AAB_trunk.9.ADM.2</text></g>
<g id="truediv_10_252" transform="translate(72.5,578.7)"><use href="#Ttd"/><text class="b" y="-.85">truediv_10_252</text></g>
<g id="softmax_10_253" transform="translate(108.5,545)"><use href="#Tsm"/><text class="b" y="-2.9">softmax_10_253</text></g>
<g id="conv2d_66_254" transform="translate(95.3,719.5)"><use href="#Tc3"/><text class="b" y="-7">conv2d_66_254</text><text y="9.4">@AAB_trunk.9.attention.k1</text></g>
<g id="leakyrelu_29_255" transform="translate(141,692.5)"><use href="#Tla"/><text class="b" y="-4.95">leakyrelu_29_255</text><text y="7.35">@AAB_trunk.9.attention.lrelu</text></g>
<g id="conv2d_67_256" transform="translate(146.5,664.5)"><use href="#Tk2"/><text class="b" y="-7">conv2d_67_256</text><text y="9.4">@AAB_trunk.9.attention.k2</text></g>
<g id="sigmoid_10_257" transform="translate(152,639.5)"><use href="#Tsg"/><text class="b" y="-2.9">sigmoid_10_257</text><text y="5.3">@AAB_trunk.9.attention.sigmoid</text></g>
<g id="conv2d_68_258" transform="translate(184.7,719.5)"><use href="#Tc3"/><text class="b" y="-7">conv2d_68_258</text><text y="9.4">@AAB_trunk.9.attention.k3</text></g>
<g id="mul_28_259" transform="translate(156,614.5)"><use href="#Tm"/><text class="b" y="-.85">mul_28_259</text></g>
<g id="conv2d_69_260" transform="translate(156.5,578.2)"><use href="#Tc3"/><text class="b" y="-7">conv2d_69_260</text><text y="9.4">@AAB_trunk.9.attention.k4</text></g>
<g id="conv2d_70_261" transform="translate(274.3,719.5)"><use href="#Tc3"/><text class="b" y="-7">conv2d_70_261</text><text y="9.4">@AAB_trunk.9.non_attention</text></g>
<g id="getitem_19_262" transform="translate(108.5,519.7)"><use href="#Tgi"/><text class="b" y="-.85">getitem_19_262</text></g>
<g id="view_29_263" transform="translate(109.5,498.7)"><use href="#Tv"/><text class="b" y="-.85">view_29_263</text></g>
<g id="mul_29_264" transform="translate(166.3,477.7)"><use href="#Tm"/><text class="b" y="-.85">mul_29_264</text></g>
<g id="getitem_20_265" transform="translate(145.5,519.7)"><use href="#Tgi"/><text class="b" y="-.85">getitem_20_265</text></g>
<g id="view_30_266" transform="translate(145.5,498.7)"><use href="#Tv"/><text class="b" y="-.85">view_30_266</text></g>
<g id="mul_30_267" transform="translate(226,477.7)"><use href="#Tm"/><text class="b" y="-.85">mul_30_267</text></g>
<g id="add_10_268" transform="translate(226,456.2)"><use href="#Tm"/><text class="b" y="-.85">add_10_268</text></g>
<g id="leakyrelu_30_269" transform="translate(233.7,432.3)"><use href="#Tlr"/><text class="b" y="-4.95">leakyrelu_30_269</text><text y="7.35">@AAB_trunk.9.lrelu</text></g>
<g id="conv2d_71_270" transform="translate(271.3,405)"><use href="#Tcf"/><text class="b" y="-7">conv2d_71_270</text><text y="9.4">@AAB_trunk.9.conv_last</text></g>
<g id="iadd_10_271" transform="translate(278.7,380.5)"><use href="#Tm"/><text class="b" y="-.85">iadd_10_271</text></g>
</g>
<g id="blk8" transform="translate(0,3012.33)"><use href="#Tclu"/><text class="l b" x="8.5" y="364.3">AAB_trunk.8</text><text class="l b" x="34" y="594.3">AAB_trunk.8.ADM</text><text class="l b" x="111.5" y="558.6">AAB_trunk.8.attention</text>
<g id="conv2d_58_218" transform="translate(274,774.5)"><use href="#Tcf"/><text class="b" y="-7">conv2d_58_218</text><text y="9.4">@AAB_trunk.8.conv_first</text></g>
<g id="leakyrelu_25_219" transform="translate(184.5,747)"><use href="#Tlr"/><text class="b" y="-4.95">leakyrelu_25_219</text><text y="7.35">@AAB_trunk.8.lrelu</text></g>
<g id="adaptiveavgpool2d_9_220" transform="translate(31.5,720)"><use href="#Tap"/><text class="b" y="-4.95">adaptiveavgpool2d_9_220</text><text y="7.35">@AAB_trunk.8.avg_pool</text></g>
<g id="view_25_221" transform="translate(43.5,692.5)"><use href="#Tv0"/><text class="b" y="-.85">view_25_221</text></g>
<g id="linear_17_222" transform="translate(58.5,664.5)"><use href="#Tl1"/><text class="b" y="-7">linear_17_222</text><text y="9.4">@AAB_trunk.8.ADM.0</text></g>
<g id="relu_9_223" transform="translate(58.5,640)"><use href="#Trl"/><text class="b" y="-2.9">relu_9_223</text><text y="5.3">@AAB_trunk.8.ADM.1</text></g>
<g id="linear_18_224" transform="translate(58.5,614)"><use href="#Tl2"/><text class="b" y="-7">linear_18_224</text><text y="9.4">@AAB_trunk.8.ADM.2</text></g>
<g id="truediv_9_225" transform="translate(72.5,578.7)"><use href="#Ttd"/><text class="b" y="-.85">truediv_9_225</text></g>
<g id="softmax_9_226" transform="translate(108.5,545)"><use href="#Tsm"/><text class="b" y="-2.9">softmax_9_226</text></g>
<g id="conv2d_59_227" transform="translate(95.3,719.5)"><use href="#Tc3"/><text class="b" y="-7">conv2d_59_227</text><text y="9.4">@AAB_trunk.8.attention.k1</text></g>
<g id="leakyrelu_26_228" transform="translate(141,692.5)"><use href="#Tla"/><text class="b" y="-4.95">leakyrelu_26_228</text><text y="7.35">@AAB_trunk.8.attention.lrelu</text></g>
<g id="conv2d_60_229" transform="translate(146.5,664.5)"><use href="#Tk2"/><text class="b" y="-7">conv2d_60_229</text><text y="9.4">@AAB_trunk.8.attention.k2</text></g>
<g id="sigmoid_9_230" transform="translate(152,639.5)"><use href="#Tsg"/><text class="b" y="-2.9">sigmoid_9_230</text><text y="5.3">@AAB_trunk.8.attention.sigmoid</text></g>
<g id="conv2d_61_231" transform="translate(184.7,719.5)"><use href="#Tc3"/><text class="b" y="-7">conv2d_61_231</text><text y="9.4">@AAB_trunk.8.attention.k3</text></g>
<g id="mul_25_232" transform="translate(156,614.5)"><use href="#Tm"/><text class="b" y="-.85">mul_25_232</text></g>
<g id="conv2d_62_233" transform="translate(156.5,578.2)"><use href="#Tc3"/><text class="b" y="-7">conv2d_62_233</text><text y="9.4">@AAB_trunk.8.attention.k4</text></g>
<g id="conv2d_63_234" transform="translate(274.3,719.5)"><use href="#Tc3"/><text class="b" y="-7">conv2d_63_234</text><text y="9.4">@AAB_trunk.8.non_attention</text></g>
<g id="getitem_17_235" transform="translate(108.5,519.7)"><use href="#Tgi"/><text class="b" y="-.85">getitem_17_235</text></g>
<g id="view_26_236" transform="translate(109.5,498.7)"><use href="#Tv"/><text class="b" y="-.85">view_26_236</text></g>
<g id="mul_26_237" transform="translate(166.3,477.7)"><use href="#Tm"/><text class="b" y="-.85">mul_26_237</text></g>
<g id="getitem_18_238" transform="translate(145.5,519.7)"><use href="#Tgi"/><text class="b" y="-.85">getitem_18_238</text></g>
<g id="view_27_239" transform="translate(145.5,498.7)"><use href="#Tv"/><text class="b" y="-.85">view_27_239</text></g>
<g id="mul_27_240" transform="translate(226,477.7)"><use href="#Tm"/><text class="b" y="-.85">mul_27_240</text></g>
<g id="add_9_241" transform="translate(226,456.2)"><use href="#Tm"/><text class="b" y="-.85">add_9_241</text></g>
<g id="leakyrelu_27_242" transform="translate(233.7,432.3)"><use href="#Tlr"/><text class="b" y="-4.95">leakyrelu_27_242</text><text y="7.35">@AAB_trunk.8.lrelu</text></g>
<g id="conv2d_64_243" transform="translate(271.3,405)"><use href="#Tcf"/><text class="b" y="-7">conv2d_64_243</text><text y="9.4">@AAB_trunk.8.conv_last</text></g>
<g id="iadd_9_244" transform="translate(278.7,380.5)"><use href="#Tm"/><text class="b" y="-.85">iadd_9_244</text></g>
</g>
<g id="blk7" transform="translate(0,3442.67)"><use href="#Tclu"/><text class="l b" x="8.5" y="364.3">AAB_trunk.7</text><text class="l b" x="34" y="594.3">AAB_trunk.7.ADM</text><text class="l b" x="111.5" y="558.6">AAB_trunk.7.attention</text>
<g id="conv2d_51_191" transform="translate(274,774.5)"><use href="#Tcf"/><text class="b" y="-7">conv2d_51_191</text><text y="9.4">@AAB_trunk.7.conv_first</text></g>
<g id="leakyrelu_22_192" transform="translate(184.5,747)"><use href="#Tlr"/><text class="b" y="-4.95">leakyrelu_22_192</text><text y="7.35">@AAB_trunk.7.lrelu</text></g>
<g id="adaptiveavgpool2d_8_193" transform="translate(31.5,720)"><use href="#Tap"/><text class="b" y="-4.95">adaptiveavgpool2d_8_193</text><text y="7.35">@AAB_trunk.7.avg_pool</text></g>
<g id="view_22_194" transform="translate(43.5,692.5)"><use href="#Tv0"/><text class="b" y="-.85">view_22_194</text></g>
<g id="linear_15_195" transform="translate(58.5,664.5)"><use href="#Tl1"/><text class="b" y="-7">linear_15_195</text><text y="9.4">@AAB_trunk.7.ADM.0</text></g>
<g id="relu_8_196" transform="translate(58.5,640)"><use href="#Trl"/><text class="b" y="-2.9">relu_8_196</text><text y="5.3">@AAB_trunk.7.ADM.1</text></g>
<g id="linear_16_197" transform="translate(58.5,614)"><use href="#Tl2"/><text class="b" y="-7">linear_16_197</text><text y="9.4">@AAB_trunk.7.ADM.2</text></g>
<g id="truediv_8_198" transform="translate(72.5,578.7)"><use href="#Ttd"/><text class="b" y="-.85">truediv_8_198</text></g>
<g id="softmax_8_199" transform="translate(108.5,545)"><use href="#Tsm"/><text class="b" y="-2.9">softmax_8_199</text></g>
<g id="conv2d_52_200" transform="translate(95.3,719.5)"><use href="#Tc3"/><text class="b" y="-7">conv2d_52_200</text><text y="9.4">@AAB_trunk.7.attention.k1</text></g>
<g id="leakyrelu_23_201" transform="translate(141,692.5)"><use href="#Tla"/><text class="b" y="-4.95">leakyrelu_23_201</text><text y="7.35">@AAB_trunk.7.attention.lrelu</text></g>
<g id="conv2d_53_202" transform="translate(146.5,664.5)"><use href="#Tk2"/><text class="b" y="-7">conv2d_53_202</text><text y="9.4">@AAB_trunk.7.attention.k2</text></g>
<g id="sigmoid_8_203" transform="translate(152,639.5)"><use href="#Tsg"/><text class="b" y="-2.9">sigmoid_8_203</text><text y="5.3">@AAB_trunk.7.attention.sigmoid</text></g>
<g id="conv2d_54_204" transform="translate(184.7,719.5)"><use href="#Tc3"/><text class="b" y="-7">conv2d_54_204</text><text y="9.4">@AAB_trunk.7.attention.k3</text></g>
<g id="mul_22_205" transform="translate(156,614.5)"><use href="#Tm"/><text class="b" y="-.85">mul_22_205</text></g>
<g id="conv2d_55_206" transform="translate(156.5,578.2)"><use href="#Tc3"/><text class="b" y="-7">conv2d_55_206</text><text y="9.4">@AAB_trunk.7.attention.k4</text></g>
<g id="conv2d_56_207" transform="translate(274.3,719.5)"><use href="#Tc3"/><text class="b" y="-7">conv2d_56_207</text><text y="9.4">@AAB_trunk.7.non_attention</text></g>
<g id="getitem_15_208" transform="translate(108.5,519.7)"><use href="#Tgi"/><text class="b" y="-.85">getitem_15_208</text></g>
<g id="view_23_209" transform="translate(109.5,498.7)"><use href="#Tv"/><text class="b" y="-.85">view_23_209</text></g>
<g id="mul_23_210" transform="translate(166.3,477.7)"><use href="#Tm"/><text class="b" y="-.85">mul_23_210</text></g>
<g id="getitem_16_211" transform="translate(145.5,519.7)"><use href="#Tgi"/><text class="b" y="-.85">getitem_16_211</text></g>
<g id="view_24_212" transform="translate(145.5,498.7)"><use href="#Tv"/><text class="b" y="-.85">view_24_212</text></g>
<g id="mul_24_213" transform="translate(226,477.7)"><use href="#Tm"/><text class="b" y="-.85">mul_24_213</text></g>
<g id="add_8_214" transform="translate(226,456.2)"><use href="#Tm"/><text class="b" y="-.85">add_8_214</text></g>
<g id="leakyrelu_24_215" transform="translate(233.7,432.3)"><use href="#Tlr"/><text class="b" y="-4.95">leakyrelu_24_215</text><text y="7.35">@AAB_trunk.7.lrelu</text></g>
<g id="conv2d_57_216" transform="translate(271.3,405)"><use href="#Tcf"/><text class="b" y="-7">conv2d_57_216</text><text y="9.4">@AAB_trunk.7.conv_last</text></g>
<g id="iadd_8_217" transform="translate(278.7,380.5)"><use href="#Tm"/><text class="b" y="-.85">iadd_8_217</text></g>
</g>
<g id="blk6" transform="translate(0,3873)"><use href="#Tclu"/><text class="l b" x="8.5" y="364.3">AAB_trunk.6</text><text class="l b" x="34" y="594.3">AAB_trunk.6.ADM</text><text class="l b" x="111.5" y="558.6">AAB_trunk.6.attention</text>
<g id="conv2d_44_164" transform="translate(274,774.5)"><use href="#Tcf"/><text class="b" y="-7">conv2d_44_164</text><text y="9.4">@AAB_trunk.6.conv_first</text></g>
<g id="leakyrelu_19_165" transform="translate(184.5,747)"><use href="#Tlr"/><text class="b" y="-4.95">leakyrelu_19_165</text><text y="7.35">@AAB_trunk.6.lrelu</text></g>
<g id="adaptiveavgpool2d_7_166" transform="translate(31.5,720)"><use href="#Tap"/><text class="b" y="-4.95">adaptiveavgpool2d_7_166</text><text y="7.35">@AAB_trunk.6.avg_pool</text></g>
<g id="view_19_167" transform="translate(43.5,692.5)"><use href="#Tv0"/><text class="b" y="-.85">view_19_167</text></g>
<g id="linear_13_168" transform="translate(58.5,664.5)"><use href="#Tl1"/><text class="b" y="-7">linear_13_168</text><text y="9.4">@AAB_trunk.6.ADM.0</text></g>
<g id="relu_7_169" transform="translate(58.5,640)"><use href="#Trl"/><text class="b" y="-2.9">relu_7_169</text><text y="5.3">@AAB_trunk.6.ADM.1</text></g>
<g id="linear_14_170" transform="translate(58.5,614)"><use href="#Tl2"/><text class="b" y="-7">linear_14_170</text><text y="9.4">@AAB_trunk.6.ADM.2</text></g>
<g id="truediv_7_171" transform="translate(72.5,578.7)"><use href="#Ttd"/><text class="b" y="-.85">truediv_7_171</text></g>
<g id="softmax_7_172" transform="translate(108.5,545)"><use href="#Tsm"/><text class="b" y="-2.9">softmax_7_172</text></g>
<g id="conv2d_45_173" transform="translate(95.3,719.5)"><use href="#Tc3"/><text class="b" y="-7">conv2d_45_173</text><text y="9.4">@AAB_trunk.6.attention.k1</text></g>
<g id="leakyrelu_20_174" transform="translate(141,692.5)"><use href="#Tla"/><text class="b" y="-4.95">leakyrelu_20_174</text><text y="7.35">@AAB_trunk.6.attention.lrelu</text></g>
<g id="conv2d_46_175" transform="translate(146.5,664.5)"><use href="#Tk2"/><text class="b" y="-7">conv2d_46_175</text><text y="9.4">@AAB_trunk.6.attention.k2</text></g>
<g id="sigmoid_7_176" transform="translate(152,639.5)"><use href="#Tsg"/><text class="b" y="-2.9">sigmoid_7_176</text><text y="5.3">@AAB_trunk.6.attention.sigmoid</text></g>
<g id="conv2d_47_177" transform="translate(184.7,719.5)"><use href="#Tc3"/><text class="b" y="-7">conv2d_47_177</text><text y="9.4">@AAB_trunk.6.attention.k3</text></g>
<g id="mul_19_178" transform="translate(156,614.5)"><use href="#Tm"/><text class="b" y="-.85">mul_19_178</text></g>
<g id="conv2d_48_179" transform="translate(156.5,578.2)"><use href="#Tc3"/><text class="b" y="-7">conv2d_48_179</text><text y="9.4">@AAB_trunk.6.attention.k4</text></g>
<g id="conv2d_49_180" transform="translate(274.3,719.5)"><use href="#Tc3"/><text class="b" y="-7">conv2d_49_180</text><text y="9.4">@AAB_trunk.6.non_attention</text></g>
<g id="getitem_13_181" transform="translate(108.5,519.7)"><use href="#Tgi"/><text class="b" y="-.85">getitem_13_181</text></g>
<g id="view_20_182" transform="translate(109.5,498.7)"><use href="#Tv"/><text class="b" y="-.85">view_20_182</text></g>
<g id="mul_20_183" transform="translate(166.3,477.7)"><use href="#Tm"/><text class="b" y="-.85">mul_20_183</text></g>
<g id="getitem_14_184" transform="translate(145.5,519.7)"><use href="#Tgi"/><text class="b" y="-.85">getitem_14_184</text></g>
<g id="view_21_185" transform="translate(145.5,498.7)"><use href="#Tv"/><text class="b" y="-.85">view_21_185</text></g>
<g id="mul_21_186" transform="translate(226,477.7)"><use href="#Tm"/><text class="b" y="-.85">mul_21_186</text></g>
<g id="add_7_187" transform="translate(226,456.2)"><use href="#Tm"/><text class="b" y="-.85">add_7_187</text></g>
<g id="leakyrelu_21_188" transform="translate(233.7,432.3)"><use href="#Tlr"/><text class="b" y="-4.95">leakyrelu_21_188</text><text y="7.35">@AAB_trunk.6.lrelu</text></g>
<g id="conv2d_50_189" transform="translate(271.3,405)"><use href="#Tcf"/><text class="b" y="-7">conv2d_50_189</text><text y="9.4">@AAB_trunk.6.conv_last</text></g>
<g id="iadd_7_190" transform="translate(278.7,380.5)"><use href="#Tm"/><text class="b" y="-.85">iadd_7_190</text></g>
</g>
<g id="blk5" transform="translate(0,4303.33)"><use href="#Tclu"/><text class="l b" x="8.5" y="364.3">AAB_trunk.5</text><text class="l b" x="34" y="594.3">AAB_trunk.5.ADM</text><text class="l b" x="111.5" y="558.6">AAB_trunk.5.attention</text>
<g id="conv2d_37_137" transform="translate(274,774.5)"><use href="#Tcf"/><text class="b" y="-7">conv2d_37_137</text><text y="9.4">@AAB_trunk.5.conv_first</text></g>
<g id="leakyrelu_16_138" transform="translate(184.5,747)"><use href="#Tlr"/><text class="b" y="-4.95">leakyrelu_16_138</text><text y="7.35">@AAB_trunk.5.lrelu</text></g>
<g id="adaptiveavgpool2d_6_139" transform="translate(31.5,720)"><use href="#Tap"/><text class="b" y="-4.95">adaptiveavgpool2d_6_139</text><text y="7.35">@AAB_trunk.5.avg_pool</text></g>
<g id="view_16_140" transform="translate(43.5,692.5)"><use href="#Tv0"/><text class="b" y="-.85">view_16_140</text></g>
<g id="linear_11_141" transform="translate(58.5,664.5)"><use href="#Tl1"/><text class="b" y="-7">linear_11_141</text><text y="9.4">@AAB_trunk.5.ADM.0</text></g>
<g id="relu_6_142" transform="translate(58.5,640)"><use href="#Trl"/><text class="b" y="-2.9">relu_6_142</text><text y="5.3">@AAB_trunk.5.ADM.1</text></g>
<g id="linear_12_143" transform="translate(58.5,614)"><use href="#Tl2"/><text class="b" y="-7">linear_12_143</text><text y="9.4">@AAB_trunk.5.ADM.2</text></g>
<g id="truediv_6_144" transform="translate(72.5,578.7)"><use href="#Ttd"/><text class="b" y="-.85">truediv_6_144</text></g>
<g id="softmax_6_145" transform="translate(108.5,545)"><use href="#Tsm"/><text class="b" y="-2.9">softmax_6_145</text></g>
<g id="conv2d_38_146" transform="translate(95.3,719.5)"><use href="#Tc3"/><text class="b" y="-7">conv2d_38_146</text><text y="9.4">@AAB_trunk.5.attention.k1</text></g>
<g id="leakyrelu_17_147" transform="translate(141,692.5)"><use href="#Tla"/><text class="b" y="-4.95">leakyrelu_17_147</text><text y="7.35">@AAB_trunk.5.attention.lrelu</text></g>
<g id="conv2d_39_148" transform="translate(146.5,664.5)"><use href="#Tk2"/><text class="b" y="-7">conv2d_39_148</text><text y="9.4">@AAB_trunk.5.attention.k2</text></g>
<g id="sigmoid_6_149" transform="translate(152,639.5)"><use href="#Tsg"/><text class="b" y="-2.9">sigmoid_6_149</text><text y="5.3">@AAB_trunk.5.attention.sigmoid</text></g>
<g id="conv2d_40_150" transform="translate(184.7,719.5)"><use href="#Tc3"/><text class="b" y="-7">conv2d_40_150</text><text y="9.4">@AAB_trunk.5.attention.k3</text></g>
<g id="mul_16_151" transform="translate(156,614.5)"><use href="#Tm"/><text class="b" y="-.85">mul_16_151</text></g>
<g id="conv2d_41_152" transform="translate(156.5,578.2)"><use href="#Tc3"/><text class="b" y="-7">conv2d_41_152</text><text y="9.4">@AAB_trunk.5.attention.k4</text></g>
<g id="conv2d_42_153" transform="translate(274.3,719.5)"><use href="#Tc3"/><text class="b" y="-7">conv2d_42_153</text><text y="9.4">@AAB_trunk.5.non_attention</text></g>
<g id="getitem_11_154" transform="translate(108.5,519.7)"><use href="#Tgi"/><text class="b" y="-.85">getitem_11_154</text></g>
<g id="view_17_155" transform="translate(109.5,498.7)"><use href="#Tv"/><text class="b" y="-.85">view_17_155</text></g>
<g id="mul_17_156" transform="translate(166.3,477.7)"><use href="#Tm"/><text class="b" y="-.85">mul_17_156</text></g>
<g id="getitem_12_157" transform="translate(145.5,519.7)"><use href="#Tgi"/><text class="b" y="-.85">getitem_12_157</text></g>
<g id="view_18_158" transform="translate(145.5,498.7)"><use href="#Tv"/><text class="b" y="-.85">view_18_158</text></g>
<g id="mul_18_159" transform="translate(226,477.7)"><use href="#Tm"/><text class="b" y="-.85">mul_18_159</text></g>
<g id="add_6_160" transform="translate(226,456.2)"><use href="#Tm"/><text class="b" y="-.85">add_6_160</text></g>
<g id="leakyrelu_18_161" transform="translate(233.7,432.3)"><use href="#Tlr"/><text class="b" y="-4.95">leakyrelu_18_161</text><text y="7.35">@AAB_trunk.5.lrelu</text></g>
<g id="conv2d_43_162" transform="translate(271.3,405)"><use href="#Tcf"/><text class="b" y="-7">conv2d_43_162</text><text y="9.4">@AAB_trunk.5.conv_last</text></g>
<g id="iadd_6_163" transform="translate(278.7,380.5)"><use href="#Tm"/><text class="b" y="-.85">iadd_6_163</text></g>
</g>
<g id="blk4" transform="translate(0,4733.67)"><use href="#Tclu"/><text class="l b" x="8.5" y="364.3">AAB_trunk.4</text><text class="l b" x="34" y="594.3">AAB_trunk.4.ADM</text><text class="l b" x="111.5" y="558.6">AAB_trunk.4.attention</text>
<g id="conv2d_30_110" transform="translate(274,774.5)"><use href="#Tcf"/><text class="b" y="-7">conv2d_30_110</text><text y="9.4">@AAB_trunk.4.conv_first</text></g>
<g id="leakyrelu_13_111" transform="translate(184.5,747)"><use href="#Tlr"/><text class="b" y="-4.95">leakyrelu_13_111</text><text y="7.35">@AAB_trunk.4.lrelu</text></g>
<g id="adaptiveavgpool2d_5_112" transform="translate(31.5,720)"><use href="#Tap"/><text class="b" y="-4.95">adaptiveavgpool2d_5_112</text><text y="7.35">@AAB_trunk.4.avg_pool</text></g>
<g id="view_13_113" transform="translate(43.5,692.5)"><use href="#Tv0"/><text class="b" y="-.85">view_13_113</text></g>
<g id="linear_9_114" transform="translate(58.5,664.5)"><use href="#Tl1"/><text class="b" y="-7">linear_9_114</text><text y="9.4">@AAB_trunk.4.ADM.0</text></g>
<g id="relu_5_115" transform="translate(58.5,640)"><use href="#Trl"/><text class="b" y="-2.9">relu_5_115</text><text y="5.3">@AAB_trunk.4.ADM.1</text></g>
<g id="linear_10_116" transform="translate(58.5,614)"><use href="#Tl2"/><text class="b" y="-7">linear_10_116</text><text y="9.4">@AAB_trunk.4.ADM.2</text></g>
<g id="truediv_5_117" transform="translate(72.5,578.7)"><use href="#Ttd"/><text class="b" y="-.85">truediv_5_117</text></g>
<g id="softmax_5_118" transform="translate(108.5,545)"><use href="#Tsm"/><text class="b" y="-2.9">softmax_5_118</text></g>
<g id="conv2d_31_119" transform="translate(95.3,719.5)"><use href="#Tc3"/><text class="b" y="-7">conv2d_31_119</text><text y="9.4">@AAB_trunk.4.attention.k1</text></g>
<g id="leakyrelu_14_120" transform="translate(141,692.5)"><use href="#Tla"/><text class="b" y="-4.95">leakyrelu_14_120</text><text y="7.35">@AAB_trunk.4.attention.lrelu</text></g>
<g id="conv2d_32_121" transform="translate(146.5,664.5)"><use href="#Tk2"/><text class="b" y="-7">conv2d_32_121</text><text y="9.4">@AAB_trunk.4.attention.k2</text></g>
<g id="sigmoid_5_122" transform="translate(152,639.5)"><use href="#Tsg"/><text class="b" y="-2.9">sigmoid_5_122</text><text y="5.3">@AAB_trunk.4.attention.sigmoid</text></g>
<g id="conv2d_33_123" transform="translate(184.7,719.5)"><use href="#Tc3"/><text class="b" y="-7">conv2d_33_123</text><text y="9.4">@AAB_trunk.4.attention.k3</text></g>
<g id="mul_13_124" transform="translate(156,614.5)"><use href="#Tm"/><text class="b" y="-.85">mul_13_124</text></g>
<g id="conv2d_34_125" transform="translate(156.5,578.2)"><use href="#Tc3"/><text class="b" y="-7">conv2d_34_125</text><text y="9.4">@AAB_trunk.4.attention.k4</text></g>
<g id="conv2d_35_126" transform="translate(274.3,719.5)"><use href="#Tc3"/><text class="b" y="-7">conv2d_35_126</text><text y="9.4">@AAB_trunk.4.non_attention</text></g>
<g id="getitem_9_127" transform="translate(108.5,519.7)"><use href="#Tgi"/><text class="b" y="-.85">getitem_9_127</text></g>
<g id="view_14_128" transform="translate(109.5,498.7)"><use href="#Tv"/><text class="b" y="-.85">view_14_128</text></g>
<g id="mul_14_129" transform="translate(166.3,477.7)"><use href="#Tm"/><text class="b" y="-.85">mul_14_129</text></g>
<g id="getitem_10_130" transform="translate(145.5,519.7)"><use href="#Tgi"/><text class="b" y="-.85">getitem_10_130</text></g>
<g id="view_15_131" transform="translate(145.5,498.7)"><use href="#Tv"/><text class="b" y="-.85">view_15_131</text></g>
<g id="mul_15_132" transform="translate(226,477.7)"><use href="#Tm"/><text class="b" y="-.85">mul_15_132</text></g>
<g id="add_5_133" transform="translate(226,456.2)"><use href="#Tm"/><text class="b" y="-.85">add_5_133</text></g>
<g id="leakyrelu_15_134" transform="translate(233.7,432.3)"><use href="#Tlr"/><text class="b" y="-4.95">leakyrelu_15_134</text><text y="7.35">@AAB_trunk.4.lrelu</text></g>
<g id="conv2d_36_135" transform="translate(271.3,405)"><use href="#Tcf"/><text class="b" y="-7">conv2d_36_135</text><text y="9.4">@AAB_trunk.4.conv_last</text></g>
<g id="iadd_5_136" transform="translate(278.7,380.5)"><use href="#Tm"/><text class="b" y="-.85">iadd_5_136</text></g>
</g>
<g id="blk3" transform="translate(0,5164)"><use href="#Tclu"/><text class="l b" x="8.5" y="364.3">AAB_trunk.3</text><text class="l b" x="34" y="594.3">AAB_trunk.3.ADM</text><text class="l b" x="111.5" y="558.6">AAB_trunk.3.attention</text>
<g id="conv2d_23_83" transform="translate(274,774.5)"><use href="#Tcf"/><text class="b" y="-7">conv2d_23_83</text><text y="9.4">@AAB_trunk.3.conv_first</text></g>
<g id="leakyrelu_10_84" transform="translate(184.5,747)"><use href="#Tlr"/><text class="b" y="-4.95">leakyrelu_10_84</text><text y="7.35">@AAB_trunk.3.lrelu</text></g>
<g id="adaptiveavgpool2d_4_85" transform="translate(31.5,720)"><use href="#Tap"/><text class="b" y="-4.95">adaptiveavgpool2d_4_85</text><text y="7.35">@AAB_trunk.3.avg_pool</text></g>
<g id="view_10_86" transform="translate(43.5,692.5)"><use href="#Tv0"/><text class="b" y="-.85">view_10_86</text></g>
<g id="linear_7_87" transform="translate(58.5,664.5)"><use href="#Tl1"/><text class="b" y="-7">linear_7_87</text><text y="9.4">@AAB_trunk.3.ADM.0</text></g>
<g id="relu_4_88" transform="translate(58.5,640)"><use href="#Trl"/><text class="b" y="-2.9">relu_4_88</text><text y="5.3">@AAB_trunk.3.ADM.1</text></g>
<g id="linear_8_89" transform="translate(58.5,614)"><use href="#Tl2"/><text class="b" y="-7">linear_8_89</text><text y="9.4">@AAB_trunk.3.ADM.2</text></g>
<g id="truediv_4_90" transform="translate(72.5,578.7)"><use href="#Ttd"/><text class="b" y="-.85">truediv_4_90</text></g>
<g id="softmax_4_91" transform="translate(108.5,545)"><use href="#Tsm"/><text class="b" y="-2.9">softmax_4_91</text></g>
<g id="conv2d_24_92" transform="translate(95.3,719.5)"><use href="#Tc3"/><text class="b" y="-7">conv2d_24_92</text><text y="9.4">@AAB_trunk.3.attention.k1</text></g>
<g id="leakyrelu_11_93" transform="translate(141,692.5)"><use href="#Tla"/><text class="b" y="-4.95">leakyrelu_11_93</text><text y="7.35">@AAB_trunk.3.attention.lrelu</text></g>
<g id="conv2d_25_94" transform="translate(146.5,664.5)"><use href="#Tk2"/><text class="b" y="-7">conv2d_25_94</text><text y="9.4">@AAB_trunk.3.attention.k2</text></g>
<g id="sigmoid_4_95" transform="translate(152,639.5)"><use href="#Tsg"/><text class="b" y="-2.9">sigmoid_4_95</text><text y="5.3">@AAB_trunk.3.attention.sigmoid</text></g>
<g id="conv2d_26_96" transform="translate(184.7,719.5)"><use href="#Tc3"/><text class="b" y="-7">conv2d_26_96</text><text y="9.4">@AAB_trunk.3.attention.k3</text></g>
<g id="mul_10_97" transform="translate(156,614.5)"><use href="#Tm"/><text class="b" y="-.85">mul_10_97</text></g>
<g id="conv2d_27_98" transform="translate(156.5,578.2)"><use href="#Tc3"/><text class="b" y="-7">conv2d_27_98</text><text y="9.4">@AAB_trunk.3.attention.k4</text></g>
<g id="conv2d_28_99" transform="translate(274.3,719.5)"><use href="#Tc3"/><text class="b" y="-7">conv2d_28_99</text><text y="9.4">@AAB_trunk.3.non_attention</text></g>
<g id="getitem_7_100" transform="translate(108.5,519.7)"><use href="#Tgi"/><text class="b" y="-.85">getitem_7_100</text></g>
<g id="view_11_101" transform="translate(109.5,498.7)"><use href="#Tv"/><text class="b" y="-.85">view_11_101</text></g>
<g id="mul_11_102" transform="translate(166.3,477.7)"><use href="#Tm"/><text class="b" y="-.85">mul_11_102</text></g>
<g id="getitem_8_103" transform="translate(145.5,519.7)"><use href="#Tgi"/><text class="b" y="-.85">getitem_8_103</text></g>
<g id="view_12_104" transform="translate(145.5,498.7)"><use href="#Tv"/><text class="b" y="-.85">view_12_104</text></g>
<g id="mul_12_105" transform="translate(226,477.7)"><use href="#Tm"/><text class="b" y="-.85">mul_12_105</text></g>
<g id="add_4_106" transform="translate(226,456.2)"><use href="#Tm"/><text class="b" y="-.85">add_4_106</text></g>
<g id="leakyrelu_12_107" transform="translate(233.7,432.3)"><use href="#Tlr"/><text class="b" y="-4.95">leakyrelu_12_107</text><text y="7.35">@AAB_trunk.3.lrelu</text></g>
<g id="conv2d_29_108" transform="translate(271.3,405)"><use href="#Tcf"/><text class="b" y="-7">conv2d_29_108</text><text y="9.4">@AAB_trunk.3.conv_last</text></g>
<g id="iadd_4_109" transform="translate(278.7,380.5)"><use href="#Tm"/><text class="b" y="-.85">iadd_4_109</text></g>
</g>
<g id="blk2" transform="translate(0,5594.33)"><use href="#Tclu"/><text class="l b" x="8.5" y="364.3">AAB_trunk.2</text><text class="l b" x="34" y="594.3">AAB_trunk.2.ADM</text><text class="l b" x="111.5" y="558.6">AAB_trunk.2.attention</text>
<g id="conv2d_16_56" transform="translate(274,774.5)"><use href="#Tcf"/><text class="b" y="-7">conv2d_16_56</text><text y="9.4">@AAB_trunk.2.conv_first</text></g>
<g id="leakyrelu_7_57" transform="translate(184.5,747)"><use href="#Tlr"/><text class="b" y="-4.95">leakyrelu_7_57</text><text y="7.35">@AAB_trunk.2.lrelu</text></g>
<g id="adaptiveavgpool2d_3_58" transform="translate(31.5,720)"><use href="#Tap"/><text class="b" y="-4.95">adaptiveavgpool2d_3_58</text><text y="7.35">@AAB_trunk.2.avg_pool</text></g>
<g id="view_7_59" transform="translate(43.5,692.5)"><use href="#Tv0"/><text class="b" y="-.85">view_7_59</text></g>
<g id="linear_5_60" transform="translate(58.5,664.5)"><use href="#Tl1"/><text class="b" y="-7">linear_5_60</text><text y="9.4">@AAB_trunk.2.ADM.0</text></g>
<g id="relu_3_61" transform="translate(58.5,640)"><use href="#Trl"/><text class="b" y="-2.9">relu_3_61</text><text y="5.3">@AAB_trunk.2.ADM.1</text></g>
<g id="linear_6_62" transform="translate(58.5,614)"><use href="#Tl2"/><text class="b" y="-7">linear_6_62</text><text y="9.4">@AAB_trunk.2.ADM.2</text></g>
<g id="truediv_3_63" transform="translate(72.5,578.7)"><use href="#Ttd"/><text class="b" y="-.85">truediv_3_63</text></g>
<g id="softmax_3_64" transform="translate(108.5,545)"><use href="#Tsm"/><text class="b" y="-2.9">softmax_3_64</text></g>
<g id="conv2d_17_65" transform="translate(95.3,719.5)"><use href="#Tc3"/><text class="b" y="-7">conv2d_17_65</text><text y="9.4">@AAB_trunk.2.attention.k1</text></g>
<g id="leakyrelu_8_66" transform="translate(141,692.5)"><use href="#Tla"/><text class="b" y="-4.95">leakyrelu_8_66</text><text y="7.35">@AAB_trunk.2.attention.lrelu</text></g>
<g id="conv2d_18_67" transform="translate(146.5,664.5)"><use href="#Tk2"/><text class="b" y="-7">conv2d_18_67</text><text y="9.4">@AAB_trunk.2.attention.k2</text></g>
<g id="sigmoid_3_68" transform="translate(152,639.5)"><use href="#Tsg"/><text class="b" y="-2.9">sigmoid_3_68</text><text y="5.3">@AAB_trunk.2.attention.sigmoid</text></g>
<g id="conv2d_19_69" transform="translate(184.7,719.5)"><use href="#Tc3"/><text class="b" y="-7">conv2d_19_69</text><text y="9.4">@AAB_trunk.2.attention.k3</text></g>
<g id="mul_7_70" transform="translate(156,614.5)"><use href="#Tm"/><text class="b" y="-.85">mul_7_70</text></g>
<g id="conv2d_20_71" transform="translate(156.5,578.2)"><use href="#Tc3"/><text class="b" y="-7">conv2d_20_71</text><text y="9.4">@AAB_trunk.2.attention.k4</text></g>
<g id="conv2d_21_72" transform="translate(274.3,719.5)"><use href="#Tc3"/><text class="b" y="-7">conv2d_21_72</text><text y="9.4">@AAB_trunk.2.non_attention</text></g>
<g id="getitem_5_73" transform="translate(108.5,519.7)"><use href="#Tgi"/><text class="b" y="-.85">getitem_5_73</text></g>
<g id="view_8_74" transform="translate(109.5,498.7)"><use href="#Tv"/><text class="b" y="-.85">view_8_74</text></g>
<g id="mul_8_75" transform="translate(166.3,477.7)"><use href="#Tm"/><text class="b" y="-.85">mul_8_75</text></g>
<g id="getitem_6_76" transform="translate(145.5,519.7)"><use href="#Tgi"/><text class="b" y="-.85">getitem_6_76</text></g>
<g id="view_9_77" transform="translate(145.5,498.7)"><use href="#Tv"/><text class="b" y="-.85">view_9_77</text></g>
<g id="mul_9_78" transform="translate(226,477.7)"><use href="#Tm"/><text class="b" y="-.85">mul_9_78</text></g>
<g id="add_3_79" transform="translate(226,456.2)"><use href="#Tm"/><text class="b" y="-.85">add_3_79</text></g>
<g id="leakyrelu_9_80" transform="translate(233.7,432.3)"><use href="#Tlr"/><text class="b" y="-4.95">leakyrelu_9_80</text><text y="7.35">@AAB_trunk.2.lrelu</text></g>
<g id="conv2d_22_81" transform="translate(271.3,405)"><use href="#Tcf"/><text class="b" y="-7">conv2d_22_81</text><text y="9.4">@AAB_trunk.2.conv_last</text></g>
<g id="iadd_3_82" transform="translate(278.7,380.5)"><use href="#Tm"/><text class="b" y="-.85">iadd_3_82</text></g>
</g>
<g id="blk1" transform="translate(0,6024.67)"><use href="#Tclu"/><text class="l b" x="8.5" y="364.3">AAB_trunk.1</text><text class="l b" x="34" y="594.3">AAB_trunk.1.ADM</text><text class="l b" x="111.5" y="558.6">AAB_trunk.1.attention</text>
<g id="conv2d_9_29" transform="translate(274,774.5)"><use href="#Tcf"/><text class="b" y="-7">conv2d_9_29</text><text y="9.4">@AAB_trunk.1.conv_first</text></g>
<g id="leakyrelu_4_30" transform="translate(184.5,747)"><use href="#Tlr"/><text class="b" y="-4.95">leakyrelu_4_30</text><text y="7.35">@AAB_trunk.1.lrelu</text></g>
<g id="adaptiveavgpool2d_2_31" transform="translate(31.5,720)"><use href="#Tap"/><text class="b" y="-4.95">adaptiveavgpool2d_2_31</text><text y="7.35">@AAB_trunk.1.avg_pool</text></g>
<g id="view_4_32" transform="translate(43.5,692.5)"><use href="#Tv0"/><text class="b" y="-.85">view_4_32</text></g>
<g id="linear_3_33" transform="translate(58.5,664.5)"><use href="#Tl1"/><text class="b" y="-7">linear_3_33</text><text y="9.4">@AAB_trunk.1.ADM.0</text></g>
<g id="relu_2_34" transform="translate(58.5,640)"><use href="#Trl"/><text class="b" y="-2.9">relu_2_34</text><text y="5.3">@AAB_trunk.1.ADM.1</text></g>
<g id="linear_4_35" transform="translate(58.5,614)"><use href="#Tl2"/><text class="b" y="-7">linear_4_35</text><text y="9.4">@AAB_trunk.1.ADM.2</text></g>
<g id="truediv_2_36" transform="translate(72.5,578.7)"><use href="#Ttd"/><text class="b" y="-.85">truediv_2_36</text></g>
<g id="softmax_2_37" transform="translate(108.5,545)"><use href="#Tsm"/><text class="b" y="-2.9">softmax_2_37</text></g>
<g id="conv2d_10_38" transform="translate(95.3,719.5)"><use href="#Tc3"/><text class="b" y="-7">conv2d_10_38</text><text y="9.4">@AAB_trunk.1.attention.k1</text></g>
<g id="leakyrelu_5_39" transform="translate(141,692.5)"><use href="#Tla"/><text class="b" y="-4.95">leakyrelu_5_39</text><text y="7.35">@AAB_trunk.1.attention.lrelu</text></g>
<g id="conv2d_11_40" transform="translate(146.5,664.5)"><use href="#Tk2"/><text class="b" y="-7">conv2d_11_40</text><text y="9.4">@AAB_trunk.1.attention.k2</text></g>
<g id="sigmoid_2_41" transform="translate(152,639.5)"><use href="#Tsg"/><text class="b" y="-2.9">sigmoid_2_41</text><text y="5.3">@AAB_trunk.1.attention.sigmoid</text></g>
<g id="conv2d_12_42" transform="translate(184.7,719.5)"><use href="#Tc3"/><text class="b" y="-7">conv2d_12_42</text><text y="9.4">@AAB_trunk.1.attention.k3</text></g>
<g id="mul_4_43" transform="translate(156,614.5)"><use href="#Tm"/><text class="b" y="-.85">mul_4_43</text></g>
<g id="conv2d_13_44" transform="translate(156.5,578.2)"><use href="#Tc3"/><text class="b" y="-7">conv2d_13_44</text><text y="9.4">@AAB_trunk.1.attention.k4</text></g>
<g id="conv2d_14_45" transform="translate(274.3,719.5)"><use href="#Tc3"/><text class="b" y="-7">conv2d_14_45</text><text y="9.4">@AAB_trunk.1.non_attention</text></g>
<g id="getitem_3_46" transform="translate(108.5,519.7)"><use href="#Tgi"/><text class="b" y="-.85">getitem_3_46</text></g>
<g id="view_5_47" transform="translate(109.5,498.7)"><use href="#Tv"/><text class="b" y="-.85">view_5_47</text></g>
<g id="mul_5_48" transform="translate(166.3,477.7)"><use href="#Tm"/><text class="b" y="-.85">mul_5_48</text></g>
<g id="getitem_4_49" transform="translate(145.5,519.7)"><use href="#Tgi"/><text class="b" y="-.85">getitem_4_49</text></g>
<g id="view_6_50" transform="translate(145.5,498.7)"><use href="#Tv"/><text class="b" y="-.85">view_6_50</text></g>
<g id="mul_6_51" transform="translate(226,477.7)"><use href="#Tm"/><text class="b" y="-.85">mul_6_51</text></g>
<g id="add_2_52" transform="translate(226,456.2)"><use href="#Tm"/><text class="b" y="-.85">add_2_52</text></g>
<g id="leakyrelu_6_53" transform="translate(233.7,432.3)"><use href="#Tlr"/><text class="b" y="-4.95">leakyrelu_6_53</text><text y="7.35">@AAB_trunk.1.lrelu</text></g>
<g id="conv2d_15_54" transform="translate(271.3,405)"><use href="#Tcf"/><text class="b" y="-7">conv2d_15_54</text><text y="9.4">@AAB_trunk.1.conv_last</text></g>
<g id="iadd_2_55" transform="translate(278.7,380.5)"><use href="#Tm"/><text class="b" y="-.85">iadd_2_55</text></g>
</g>
<g id="blk0" transform="translate(0,6455)"><use href="#Tclu0"/><text class="l b" x="12" y="364.3">AAB_trunk.0</text><text class="l b" x="34" y="594.3">AAB_trunk.0.ADM</text><text class="l b" x="111.5" y="558.6">AAB_trunk.0.attention</text>
<g id="conv2d_2_2" transform="translate(233.5,774.5)"><use href="#Tcf"/><text class="b" y="-7">conv2d_2_2</text><text y="9.4">@AAB_trunk.0.conv_first</text></g>
<g id="leakyrelu_1_3" transform="translate(184.5,747)"><use href="#Tlr"/><text class="b" y="-4.95">leakyrelu_1_3</text><text y="7.35">@AAB_trunk.0.lrelu</text></g>
<g id="adaptiveavgpool2d_1_4" transform="translate(31.8,720)"><rect class="w" x="-17.5" y="-9" width="35" height="18"/><text y="-.85">(1, 40, 1, 1) 160 B</text><text y="3.25">output_size=1</text><text class="b" y="-4.95">adaptiveavgpool2d_1_4</text><text y="7.35">@AAB_trunk.0.avg_pool</text></g>
<g id="view_1_5" transform="translate(45,692.5)"><use href="#Tv0"/><text class="b" y="-.85">view_1_5</text></g>
<g id="linear_1_6" transform="translate(58.5,664.5)"><use href="#Tl1"/><text class="b" y="-7">linear_1_6</text><text y="9.4">@AAB_trunk.0.ADM.0</text></g>
<g id="relu_1_7" transform="translate(58.5,640)"><use href="#Trl"/><text class="b" y="-2.9">relu_1_7</text><text y="5.3">@AAB_trunk.0.ADM.1</text></g>
<g id="linear_2_8" transform="translate(58.5,614)"><use href="#Tl2"/><text class="b" y="-7">linear_2_8</text><text y="9.4">@AAB_trunk.0.ADM.2</text></g>
<g id="truediv_1_9" transform="translate(73.5,578)"><use href="#Ttd"/><text class="b" y="-.85">truediv_1_9</text></g>
<g id="softmax_1_10" transform="translate(104.5,544.5)"><use href="#Tsm"/><text class="b" y="-2.9">softmax_1_10</text></g>
<g id="conv2d_3_11" transform="translate(95.3,719.5)"><use href="#Tc3"/><text class="b" y="-7">conv2d_3_11</text><text y="9.4">@AAB_trunk.0.attention.k1</text></g>
<g id="leakyrelu_2_12" transform="translate(141,692.5)"><use href="#Tla"/><text class="b" y="-4.95">leakyrelu_2_12</text><text y="7.35">@AAB_trunk.0.attention.lrelu</text></g>
<g id="conv2d_4_13" transform="translate(146.5,664.5)"><use href="#Tk2"/><text class="b" y="-7">conv2d_4_13</text><text y="9.4">@AAB_trunk.0.attention.k2</text></g>
<g id="sigmoid_1_14" transform="translate(152,639.5)"><use href="#Tsg"/><text class="b" y="-2.9">sigmoid_1_14</text><text y="5.3">@AAB_trunk.0.attention.sigmoid</text></g>
<g id="conv2d_5_15" transform="translate(184.7,719.5)"><use href="#Tc3"/><text class="b" y="-7">conv2d_5_15</text><text y="9.4">@AAB_trunk.0.attention.k3</text></g>
<g id="mul_1_16" transform="translate(156,614.5)"><use href="#Tm"/><text class="b" y="-.85">mul_1_16</text></g>
<g id="conv2d_6_17" transform="translate(156.5,578.2)"><use href="#Tc3"/><text class="b" y="-7">conv2d_6_17</text><text y="9.4">@AAB_trunk.0.attention.k4</text></g>
<g id="conv2d_7_18" transform="translate(274.3,719.5)"><use href="#Tc3"/><text class="b" y="-7">conv2d_7_18</text><text y="9.4">@AAB_trunk.0.non_attention</text></g>
<g id="getitem_1_19" transform="translate(104,520.5)"><use href="#Tgi"/><text class="b" y="-.85">getitem_1_19</text></g>
<g id="view_2_20" transform="translate(104.5,498.5)"><use href="#Tv"/><text class="b" y="-.85">view_2_20</text></g>
<g id="mul_2_21" transform="translate(162,477)"><use href="#Tm"/><text class="b" y="-.85">mul_2_21</text></g>
<g id="getitem_2_22" transform="translate(141,520.5)"><use href="#Tgi"/><text class="b" y="-.85">getitem_2_22</text></g>
<g id="view_3_23" transform="translate(141.5,498.5)"><use href="#Tv"/><text class="b" y="-.85">view_3_23</text></g>
<g id="mul_3_24" transform="translate(245,477)"><use href="#Tm"/><text class="b" y="-.85">mul_3_24</text></g>
<g id="add_1_25" transform="translate(245,455.7)"><use href="#Tm"/><text class="b" y="-.85">add_1_25</text></g>
<g id="leakyrelu_3_26" transform="translate(256.5,432.8)"><use href="#Tlr"/><text class="b" y="-4.95">leakyrelu_3_26</text><text y="7.35">@AAB_trunk.0.lrelu</text></g>
<g id="conv2d_8_27" transform="translate(261.5,405)"><use href="#Tcf"/><text class="b" y="-7">conv2d_8_27</text><text y="9.4">@AAB_trunk.0.conv_last</text></g>
<g id="iadd_1_28" transform="translate(283,380.5)"><use href="#Tm"/><text class="b" y="-.85">iadd_1_28</text></g>
</g>
<g id="conv2d_1_1" transform="translate(322.2,7261.2)"><rect class="g" x="-42.2" y="-11.2" width="84.4" height="22.4"/><text class="b" y="-7">conv2d_1_1</text><text y="-2.9">(1, 40, 16, 16) 40 KB</text><text class="s" y="1.2">in_channels=3, out_channels=40, kernel_size=(3, 3), padding=(1, 1)</text><text y="5.3">params: weight (40, 3, 3, 3), bias (40)</text><text y="9.4">@conv_first</text></g>
<g id="input_1" transform="translate(347,7287.5)"><ellipse class="w" rx="21" ry="8.5" style="fill:#90ee90"/><text class="b" y="-2.9">input_1</text><text y="1.2">(1, 3, 16, 16) 3 KB</text><text y="5.3">@input</text></g>
</svg>
